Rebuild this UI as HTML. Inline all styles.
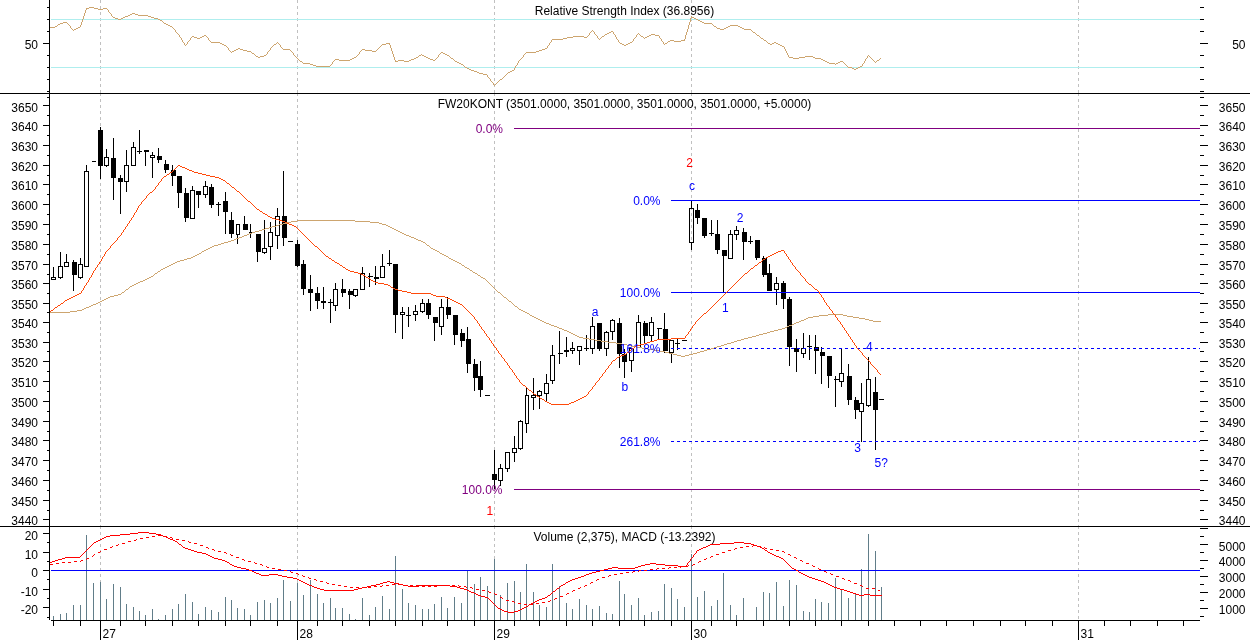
<!DOCTYPE html>
<html><head><meta charset="utf-8"><title>FW20KONT</title>
<style>html,body{margin:0;padding:0;background:#fff;overflow:hidden}svg{display:block;will-change:transform}text{font-family:"Liberation Sans",sans-serif;font-size:12px}</style></head>
<body>
<svg width="1250" height="640" viewBox="0 0 1250 640" shape-rendering="crispEdges" font-family="'Liberation Sans', sans-serif" font-size="12px">
<rect x="0" y="0" width="1250" height="640" fill="#fff"/>
<line x1="100.5" y1="0" x2="100.5" y2="93" stroke="#c0c0c0" stroke-width="1" stroke-dasharray="3 3"/>
<line x1="100.5" y1="93" x2="100.5" y2="526" stroke="#c0c0c0" stroke-width="1" stroke-dasharray="3 3"/>
<line x1="100.5" y1="526" x2="100.5" y2="620" stroke="#c0c0c0" stroke-width="1" stroke-dasharray="3 3"/>
<line x1="297.5" y1="0" x2="297.5" y2="93" stroke="#c0c0c0" stroke-width="1" stroke-dasharray="3 3"/>
<line x1="297.5" y1="93" x2="297.5" y2="526" stroke="#c0c0c0" stroke-width="1" stroke-dasharray="3 3"/>
<line x1="297.5" y1="526" x2="297.5" y2="620" stroke="#c0c0c0" stroke-width="1" stroke-dasharray="3 3"/>
<line x1="494.5" y1="0" x2="494.5" y2="93" stroke="#c0c0c0" stroke-width="1" stroke-dasharray="3 3"/>
<line x1="494.5" y1="93" x2="494.5" y2="526" stroke="#c0c0c0" stroke-width="1" stroke-dasharray="3 3"/>
<line x1="494.5" y1="526" x2="494.5" y2="620" stroke="#c0c0c0" stroke-width="1" stroke-dasharray="3 3"/>
<line x1="691.5" y1="0" x2="691.5" y2="93" stroke="#c0c0c0" stroke-width="1" stroke-dasharray="3 3"/>
<line x1="691.5" y1="93" x2="691.5" y2="526" stroke="#c0c0c0" stroke-width="1" stroke-dasharray="3 3"/>
<line x1="691.5" y1="526" x2="691.5" y2="620" stroke="#c0c0c0" stroke-width="1" stroke-dasharray="3 3"/>
<line x1="1078.5" y1="0" x2="1078.5" y2="93" stroke="#c0c0c0" stroke-width="1" stroke-dasharray="3 3"/>
<line x1="1078.5" y1="93" x2="1078.5" y2="526" stroke="#c0c0c0" stroke-width="1" stroke-dasharray="3 3"/>
<line x1="1078.5" y1="526" x2="1078.5" y2="620" stroke="#c0c0c0" stroke-width="1" stroke-dasharray="3 3"/>
<rect x="51" y="19" width="1149" height="1" fill="#afeeee"/>
<rect x="51" y="67" width="1149" height="1" fill="#afeeee"/>
<path d="M89 7h5v1h-5zM86 8h3v1h-3zM94 8h4v1h-4zM103 8h4v1h-4zM86 9h1v1h-1zM98 9h5v1h-5zM107 9h1v1h-1zM85 10h1v1h-1zM108 10h1v1h-1zM85 11h1v1h-1zM108 11h1v1h-1zM85 12h1v1h-1zM109 12h1v1h-1zM84 13h1v1h-1zM110 13h1v1h-1zM132 13h3v1h-3zM84 14h1v1h-1zM111 14h1v1h-1zM130 14h2v1h-2zM135 14h3v1h-3zM84 15h1v1h-1zM111 15h1v1h-1zM128 15h2v1h-2zM138 15h10v1h-10zM83 16h1v1h-1zM112 16h1v1h-1zM125 16h3v1h-3zM148 16h3v1h-3zM691 16h1v1h-1zM83 17h1v1h-1zM113 17h2v1h-2zM123 17h2v1h-2zM151 17h3v1h-3zM691 17h3v1h-3zM83 18h1v1h-1zM115 18h3v1h-3zM121 18h2v1h-2zM154 18h4v1h-4zM690 18h1v1h-1zM694 18h2v1h-2zM82 19h1v1h-1zM118 19h3v1h-3zM158 19h2v1h-2zM690 19h1v1h-1zM696 19h2v1h-2zM82 20h1v1h-1zM160 20h2v1h-2zM690 20h1v1h-1zM698 20h2v1h-2zM82 21h1v1h-1zM162 21h1v1h-1zM690 21h1v1h-1zM700 21h2v1h-2zM63 22h4v1h-4zM81 22h1v1h-1zM163 22h1v1h-1zM689 22h1v1h-1zM702 22h2v1h-2zM60 23h3v1h-3zM67 23h1v1h-1zM81 23h1v1h-1zM164 23h2v1h-2zM689 23h1v1h-1zM704 23h8v1h-8zM58 24h2v1h-2zM68 24h1v1h-1zM81 24h1v1h-1zM166 24h2v1h-2zM689 24h1v1h-1zM712 24h1v1h-1zM57 25h1v1h-1zM69 25h1v1h-1zM80 25h1v1h-1zM168 25h2v1h-2zM688 25h1v1h-1zM713 25h1v1h-1zM730 25h8v1h-8zM55 26h2v1h-2zM70 26h1v1h-1zM80 26h1v1h-1zM170 26h2v1h-2zM688 26h1v1h-1zM714 26h2v1h-2zM728 26h2v1h-2zM738 26h2v1h-2zM50 27h5v1h-5zM70 27h1v1h-1zM78 27h2v1h-2zM172 27h1v1h-1zM688 27h1v1h-1zM716 27h1v1h-1zM726 27h2v1h-2zM740 27h2v1h-2zM71 28h1v1h-1zM76 28h2v1h-2zM173 28h1v1h-1zM688 28h1v1h-1zM717 28h3v1h-3zM724 28h2v1h-2zM742 28h2v1h-2zM72 29h1v1h-1zM74 29h2v1h-2zM174 29h1v1h-1zM687 29h1v1h-1zM720 29h4v1h-4zM744 29h7v1h-7zM73 30h1v1h-1zM175 30h1v1h-1zM592 30h1v1h-1zM687 30h1v1h-1zM751 30h1v1h-1zM175 31h1v1h-1zM591 31h1v1h-1zM593 31h1v1h-1zM611 31h2v1h-2zM687 31h1v1h-1zM752 31h1v1h-1zM176 32h1v1h-1zM590 32h1v1h-1zM594 32h1v1h-1zM609 32h2v1h-2zM613 32h1v1h-1zM686 32h1v1h-1zM753 32h2v1h-2zM177 33h1v1h-1zM589 33h1v1h-1zM594 33h1v1h-1zM607 33h2v1h-2zM613 33h1v1h-1zM638 33h1v1h-1zM686 33h1v1h-1zM755 33h1v1h-1zM178 34h1v1h-1zM589 34h1v1h-1zM595 34h1v1h-1zM605 34h2v1h-2zM614 34h1v1h-1zM637 34h1v1h-1zM639 34h1v1h-1zM651 34h4v1h-4zM686 34h1v1h-1zM756 34h1v1h-1zM179 35h1v1h-1zM204 35h2v1h-2zM588 35h1v1h-1zM596 35h1v1h-1zM604 35h1v1h-1zM615 35h1v1h-1zM636 35h1v1h-1zM640 35h1v1h-1zM649 35h2v1h-2zM655 35h4v1h-4zM685 35h1v1h-1zM757 35h2v1h-2zM179 36h1v1h-1zM192 36h2v1h-2zM202 36h2v1h-2zM206 36h1v1h-1zM573 36h11v1h-11zM587 36h1v1h-1zM597 36h1v1h-1zM602 36h2v1h-2zM615 36h1v1h-1zM636 36h1v1h-1zM641 36h2v1h-2zM647 36h2v1h-2zM659 36h1v1h-1zM685 36h1v1h-1zM759 36h1v1h-1zM180 37h1v1h-1zM191 37h1v1h-1zM194 37h3v1h-3zM200 37h2v1h-2zM207 37h1v1h-1zM567 37h6v1h-6zM584 37h3v1h-3zM597 37h1v1h-1zM601 37h1v1h-1zM616 37h1v1h-1zM635 37h1v1h-1zM643 37h1v1h-1zM645 37h2v1h-2zM659 37h1v1h-1zM685 37h1v1h-1zM760 37h1v1h-1zM181 38h1v1h-1zM190 38h1v1h-1zM197 38h3v1h-3zM208 38h1v1h-1zM563 38h4v1h-4zM598 38h1v1h-1zM600 38h1v1h-1zM616 38h1v1h-1zM634 38h1v1h-1zM644 38h1v1h-1zM660 38h1v1h-1zM685 38h1v1h-1zM761 38h2v1h-2zM181 39h1v1h-1zM190 39h1v1h-1zM208 39h1v1h-1zM552 39h11v1h-11zM599 39h1v1h-1zM617 39h1v1h-1zM633 39h1v1h-1zM661 39h1v1h-1zM684 39h1v1h-1zM763 39h1v1h-1zM182 40h1v1h-1zM189 40h1v1h-1zM209 40h1v1h-1zM551 40h1v1h-1zM618 40h1v1h-1zM633 40h1v1h-1zM661 40h1v1h-1zM670 40h4v1h-4zM681 40h4v1h-4zM764 40h2v1h-2zM182 41h1v1h-1zM188 41h1v1h-1zM210 41h1v1h-1zM551 41h1v1h-1zM618 41h1v1h-1zM632 41h1v1h-1zM662 41h1v1h-1zM668 41h2v1h-2zM674 41h7v1h-7zM766 41h1v1h-1zM183 42h1v1h-1zM187 42h1v1h-1zM211 42h9v1h-9zM277 42h1v1h-1zM550 42h1v1h-1zM619 42h1v1h-1zM630 42h2v1h-2zM663 42h1v1h-1zM667 42h1v1h-1zM767 42h1v1h-1zM774 42h2v1h-2zM184 43h1v1h-1zM187 43h1v1h-1zM220 43h2v1h-2zM276 43h1v1h-1zM278 43h1v1h-1zM386 43h4v1h-4zM549 43h1v1h-1zM620 43h2v1h-2zM628 43h2v1h-2zM663 43h1v1h-1zM665 43h2v1h-2zM768 43h2v1h-2zM772 43h2v1h-2zM776 43h2v1h-2zM184 44h1v1h-1zM186 44h1v1h-1zM222 44h2v1h-2zM274 44h2v1h-2zM279 44h1v1h-1zM382 44h4v1h-4zM389 44h1v1h-1zM549 44h1v1h-1zM622 44h2v1h-2zM626 44h2v1h-2zM664 44h1v1h-1zM770 44h2v1h-2zM778 44h2v1h-2zM185 45h1v1h-1zM224 45h2v1h-2zM273 45h1v1h-1zM280 45h1v1h-1zM381 45h1v1h-1zM390 45h1v1h-1zM548 45h1v1h-1zM624 45h2v1h-2zM780 45h2v1h-2zM226 46h1v1h-1zM272 46h1v1h-1zM280 46h1v1h-1zM380 46h1v1h-1zM390 46h1v1h-1zM547 46h1v1h-1zM782 46h2v1h-2zM227 47h1v1h-1zM271 47h1v1h-1zM281 47h1v1h-1zM379 47h1v1h-1zM390 47h1v1h-1zM547 47h1v1h-1zM784 47h1v1h-1zM228 48h1v1h-1zM238 48h2v1h-2zM270 48h1v1h-1zM282 48h1v1h-1zM378 48h1v1h-1zM391 48h1v1h-1zM545 48h2v1h-2zM784 48h1v1h-1zM228 49h1v1h-1zM236 49h2v1h-2zM240 49h3v1h-3zM270 49h1v1h-1zM283 49h7v1h-7zM362 49h3v1h-3zM377 49h1v1h-1zM391 49h1v1h-1zM542 49h3v1h-3zM785 49h1v1h-1zM229 50h1v1h-1zM234 50h2v1h-2zM243 50h4v1h-4zM269 50h1v1h-1zM290 50h1v1h-1zM361 50h1v1h-1zM365 50h7v1h-7zM376 50h1v1h-1zM391 50h1v1h-1zM539 50h3v1h-3zM785 50h1v1h-1zM230 51h1v1h-1zM232 51h2v1h-2zM247 51h4v1h-4zM268 51h1v1h-1zM291 51h1v1h-1zM360 51h1v1h-1zM372 51h4v1h-4zM392 51h1v1h-1zM536 51h3v1h-3zM786 51h1v1h-1zM231 52h1v1h-1zM251 52h1v1h-1zM267 52h1v1h-1zM292 52h1v1h-1zM359 52h1v1h-1zM392 52h1v1h-1zM441 52h2v1h-2zM526 52h10v1h-10zM786 52h1v1h-1zM252 53h2v1h-2zM267 53h1v1h-1zM293 53h1v1h-1zM359 53h1v1h-1zM392 53h1v1h-1zM440 53h1v1h-1zM443 53h2v1h-2zM525 53h1v1h-1zM787 53h1v1h-1zM254 54h1v1h-1zM266 54h1v1h-1zM293 54h1v1h-1zM358 54h1v1h-1zM393 54h1v1h-1zM421 54h1v1h-1zM439 54h1v1h-1zM445 54h2v1h-2zM524 54h1v1h-1zM787 54h1v1h-1zM255 55h1v1h-1zM264 55h2v1h-2zM294 55h1v1h-1zM357 55h1v1h-1zM393 55h1v1h-1zM419 55h2v1h-2zM422 55h2v1h-2zM438 55h1v1h-1zM447 55h2v1h-2zM523 55h1v1h-1zM788 55h1v1h-1zM868 55h1v1h-1zM256 56h2v1h-2zM260 56h4v1h-4zM295 56h1v1h-1zM356 56h1v1h-1zM393 56h1v1h-1zM418 56h1v1h-1zM424 56h2v1h-2zM438 56h1v1h-1zM449 56h1v1h-1zM523 56h1v1h-1zM788 56h1v1h-1zM805 56h8v1h-8zM867 56h1v1h-1zM869 56h1v1h-1zM258 57h2v1h-2zM296 57h1v1h-1zM354 57h2v1h-2zM394 57h1v1h-1zM416 57h2v1h-2zM426 57h2v1h-2zM437 57h1v1h-1zM450 57h1v1h-1zM522 57h1v1h-1zM789 57h4v1h-4zM799 57h6v1h-6zM813 57h2v1h-2zM867 57h1v1h-1zM870 57h1v1h-1zM297 58h1v1h-1zM352 58h2v1h-2zM394 58h1v1h-1zM414 58h2v1h-2zM428 58h2v1h-2zM436 58h1v1h-1zM451 58h2v1h-2zM521 58h1v1h-1zM793 58h6v1h-6zM815 58h6v1h-6zM866 58h1v1h-1zM871 58h1v1h-1zM880 58h1v1h-1zM298 59h1v1h-1zM335 59h4v1h-4zM350 59h2v1h-2zM394 59h1v1h-1zM411 59h3v1h-3zM430 59h3v1h-3zM435 59h1v1h-1zM453 59h1v1h-1zM520 59h1v1h-1zM821 59h2v1h-2zM865 59h1v1h-1zM872 59h1v1h-1zM879 59h1v1h-1zM299 60h1v1h-1zM334 60h1v1h-1zM339 60h11v1h-11zM395 60h1v1h-1zM398 60h6v1h-6zM409 60h2v1h-2zM433 60h2v1h-2zM454 60h1v1h-1zM519 60h1v1h-1zM823 60h2v1h-2zM865 60h1v1h-1zM873 60h1v1h-1zM877 60h2v1h-2zM300 61h2v1h-2zM333 61h1v1h-1zM395 61h3v1h-3zM404 61h5v1h-5zM455 61h2v1h-2zM518 61h1v1h-1zM825 61h2v1h-2zM840 61h3v1h-3zM864 61h1v1h-1zM874 61h1v1h-1zM876 61h1v1h-1zM302 62h1v1h-1zM332 62h1v1h-1zM457 62h2v1h-2zM518 62h1v1h-1zM827 62h2v1h-2zM838 62h2v1h-2zM843 62h1v1h-1zM864 62h1v1h-1zM875 62h1v1h-1zM303 63h7v1h-7zM332 63h1v1h-1zM459 63h2v1h-2zM517 63h1v1h-1zM829 63h6v1h-6zM836 63h2v1h-2zM844 63h1v1h-1zM863 63h1v1h-1zM310 64h3v1h-3zM331 64h1v1h-1zM461 64h2v1h-2zM517 64h1v1h-1zM835 64h1v1h-1zM845 64h1v1h-1zM862 64h1v1h-1zM313 65h3v1h-3zM330 65h1v1h-1zM463 65h1v1h-1zM516 65h1v1h-1zM846 65h1v1h-1zM862 65h1v1h-1zM316 66h14v1h-14zM464 66h1v1h-1zM515 66h1v1h-1zM847 66h1v1h-1zM860 66h2v1h-2zM465 67h2v1h-2zM515 67h1v1h-1zM848 67h4v1h-4zM858 67h2v1h-2zM467 68h2v1h-2zM514 68h1v1h-1zM852 68h2v1h-2zM856 68h2v1h-2zM469 69h2v1h-2zM514 69h1v1h-1zM854 69h2v1h-2zM471 70h3v1h-3zM512 70h2v1h-2zM474 71h3v1h-3zM510 71h2v1h-2zM477 72h2v1h-2zM508 72h2v1h-2zM479 73h4v1h-4zM507 73h1v1h-1zM483 74h4v1h-4zM506 74h1v1h-1zM487 75h1v1h-1zM505 75h1v1h-1zM487 76h1v1h-1zM504 76h1v1h-1zM488 77h1v1h-1zM503 77h1v1h-1zM489 78h1v1h-1zM502 78h1v1h-1zM490 79h1v1h-1zM500 79h2v1h-2zM490 80h1v1h-1zM499 80h1v1h-1zM491 81h1v1h-1zM498 81h1v1h-1zM492 82h1v1h-1zM497 82h1v1h-1zM493 83h1v1h-1zM496 83h1v1h-1zM493 84h1v1h-1zM495 84h1v1h-1zM494 85h1v1h-1z" fill="#cda56f"/>
<rect x="53" y="616" width="1" height="4" fill="#617d89"/>
<rect x="60" y="614" width="1" height="6" fill="#617d89"/>
<rect x="66" y="613" width="1" height="7" fill="#617d89"/>
<rect x="73" y="605" width="1" height="15" fill="#617d89"/>
<rect x="80" y="605" width="1" height="15" fill="#617d89"/>
<rect x="86" y="535" width="1" height="85" fill="#617d89"/>
<rect x="93" y="583" width="1" height="37" fill="#617d89"/>
<rect x="100" y="582" width="1" height="38" fill="#617d89"/>
<rect x="106" y="599" width="1" height="21" fill="#617d89"/>
<rect x="113" y="584" width="1" height="36" fill="#617d89"/>
<rect x="120" y="587" width="1" height="33" fill="#617d89"/>
<rect x="126" y="604" width="1" height="16" fill="#617d89"/>
<rect x="133" y="607" width="1" height="13" fill="#617d89"/>
<rect x="139" y="611" width="1" height="9" fill="#617d89"/>
<rect x="145" y="615" width="1" height="5" fill="#617d89"/>
<rect x="152" y="609" width="1" height="11" fill="#617d89"/>
<rect x="158" y="619" width="1" height="1" fill="#617d89"/>
<rect x="165" y="615" width="1" height="5" fill="#617d89"/>
<rect x="172" y="609" width="1" height="11" fill="#617d89"/>
<rect x="178" y="604" width="1" height="16" fill="#617d89"/>
<rect x="185" y="594" width="1" height="26" fill="#617d89"/>
<rect x="192" y="602" width="1" height="18" fill="#617d89"/>
<rect x="198" y="614" width="1" height="6" fill="#617d89"/>
<rect x="205" y="607" width="1" height="13" fill="#617d89"/>
<rect x="211" y="610" width="1" height="10" fill="#617d89"/>
<rect x="218" y="612" width="1" height="8" fill="#617d89"/>
<rect x="225" y="597" width="1" height="23" fill="#617d89"/>
<rect x="231" y="600" width="1" height="20" fill="#617d89"/>
<rect x="237" y="608" width="1" height="12" fill="#617d89"/>
<rect x="244" y="609" width="1" height="11" fill="#617d89"/>
<rect x="250" y="615" width="1" height="5" fill="#617d89"/>
<rect x="257" y="602" width="1" height="18" fill="#617d89"/>
<rect x="264" y="600" width="1" height="20" fill="#617d89"/>
<rect x="270" y="603" width="1" height="17" fill="#617d89"/>
<rect x="277" y="598" width="1" height="22" fill="#617d89"/>
<rect x="283" y="580" width="1" height="40" fill="#617d89"/>
<rect x="290" y="601" width="1" height="19" fill="#617d89"/>
<rect x="297" y="583" width="1" height="37" fill="#617d89"/>
<rect x="303" y="595" width="1" height="25" fill="#617d89"/>
<rect x="310" y="580" width="1" height="40" fill="#617d89"/>
<rect x="317" y="594" width="1" height="26" fill="#617d89"/>
<rect x="323" y="603" width="1" height="17" fill="#617d89"/>
<rect x="330" y="598" width="1" height="22" fill="#617d89"/>
<rect x="335" y="608" width="1" height="12" fill="#617d89"/>
<rect x="342" y="608" width="1" height="12" fill="#617d89"/>
<rect x="349" y="614" width="1" height="6" fill="#617d89"/>
<rect x="355" y="619" width="1" height="1" fill="#617d89"/>
<rect x="362" y="598" width="1" height="22" fill="#617d89"/>
<rect x="369" y="615" width="1" height="5" fill="#617d89"/>
<rect x="375" y="607" width="1" height="13" fill="#617d89"/>
<rect x="382" y="596" width="1" height="24" fill="#617d89"/>
<rect x="389" y="609" width="1" height="11" fill="#617d89"/>
<rect x="395" y="556" width="1" height="64" fill="#617d89"/>
<rect x="402" y="589" width="1" height="31" fill="#617d89"/>
<rect x="408" y="603" width="1" height="17" fill="#617d89"/>
<rect x="415" y="605" width="1" height="15" fill="#617d89"/>
<rect x="422" y="609" width="1" height="11" fill="#617d89"/>
<rect x="428" y="609" width="1" height="11" fill="#617d89"/>
<rect x="434" y="604" width="1" height="16" fill="#617d89"/>
<rect x="441" y="597" width="1" height="23" fill="#617d89"/>
<rect x="447" y="608" width="1" height="12" fill="#617d89"/>
<rect x="454" y="597" width="1" height="23" fill="#617d89"/>
<rect x="461" y="603" width="1" height="17" fill="#617d89"/>
<rect x="467" y="570" width="1" height="50" fill="#617d89"/>
<rect x="474" y="584" width="1" height="36" fill="#617d89"/>
<rect x="480" y="577" width="1" height="43" fill="#617d89"/>
<rect x="487" y="586" width="1" height="34" fill="#617d89"/>
<rect x="494" y="559" width="1" height="61" fill="#617d89"/>
<rect x="500" y="595" width="1" height="25" fill="#617d89"/>
<rect x="507" y="583" width="1" height="37" fill="#617d89"/>
<rect x="514" y="581" width="1" height="39" fill="#617d89"/>
<rect x="520" y="592" width="1" height="28" fill="#617d89"/>
<rect x="526" y="564" width="1" height="56" fill="#617d89"/>
<rect x="533" y="592" width="1" height="28" fill="#617d89"/>
<rect x="539" y="605" width="1" height="15" fill="#617d89"/>
<rect x="546" y="607" width="1" height="13" fill="#617d89"/>
<rect x="552" y="564" width="1" height="56" fill="#617d89"/>
<rect x="559" y="586" width="1" height="34" fill="#617d89"/>
<rect x="566" y="603" width="1" height="17" fill="#617d89"/>
<rect x="572" y="609" width="1" height="11" fill="#617d89"/>
<rect x="579" y="599" width="1" height="21" fill="#617d89"/>
<rect x="586" y="605" width="1" height="15" fill="#617d89"/>
<rect x="592" y="609" width="1" height="11" fill="#617d89"/>
<rect x="599" y="606" width="1" height="14" fill="#617d89"/>
<rect x="606" y="613" width="1" height="7" fill="#617d89"/>
<rect x="612" y="614" width="1" height="6" fill="#617d89"/>
<rect x="619" y="581" width="1" height="39" fill="#617d89"/>
<rect x="624" y="594" width="1" height="26" fill="#617d89"/>
<rect x="631" y="605" width="1" height="15" fill="#617d89"/>
<rect x="638" y="598" width="1" height="22" fill="#617d89"/>
<rect x="644" y="615" width="1" height="5" fill="#617d89"/>
<rect x="651" y="612" width="1" height="8" fill="#617d89"/>
<rect x="658" y="611" width="1" height="9" fill="#617d89"/>
<rect x="664" y="584" width="1" height="36" fill="#617d89"/>
<rect x="671" y="588" width="1" height="32" fill="#617d89"/>
<rect x="677" y="599" width="1" height="21" fill="#617d89"/>
<rect x="684" y="607" width="1" height="13" fill="#617d89"/>
<rect x="691" y="554" width="1" height="66" fill="#617d89"/>
<rect x="697" y="597" width="1" height="23" fill="#617d89"/>
<rect x="704" y="591" width="1" height="29" fill="#617d89"/>
<rect x="711" y="606" width="1" height="14" fill="#617d89"/>
<rect x="717" y="600" width="1" height="20" fill="#617d89"/>
<rect x="723" y="573" width="1" height="47" fill="#617d89"/>
<rect x="730" y="605" width="1" height="15" fill="#617d89"/>
<rect x="736" y="615" width="1" height="5" fill="#617d89"/>
<rect x="743" y="598" width="1" height="22" fill="#617d89"/>
<rect x="756" y="607" width="1" height="13" fill="#617d89"/>
<rect x="763" y="592" width="1" height="28" fill="#617d89"/>
<rect x="769" y="593" width="1" height="27" fill="#617d89"/>
<rect x="776" y="582" width="1" height="38" fill="#617d89"/>
<rect x="783" y="606" width="1" height="14" fill="#617d89"/>
<rect x="789" y="580" width="1" height="40" fill="#617d89"/>
<rect x="796" y="585" width="1" height="35" fill="#617d89"/>
<rect x="803" y="611" width="1" height="9" fill="#617d89"/>
<rect x="809" y="612" width="1" height="8" fill="#617d89"/>
<rect x="815" y="599" width="1" height="21" fill="#617d89"/>
<rect x="821" y="602" width="1" height="18" fill="#617d89"/>
<rect x="828" y="603" width="1" height="17" fill="#617d89"/>
<rect x="835" y="578" width="1" height="42" fill="#617d89"/>
<rect x="841" y="590" width="1" height="30" fill="#617d89"/>
<rect x="848" y="598" width="1" height="22" fill="#617d89"/>
<rect x="855" y="593" width="1" height="27" fill="#617d89"/>
<rect x="861" y="569" width="1" height="51" fill="#617d89"/>
<rect x="868" y="534" width="1" height="86" fill="#617d89"/>
<rect x="875" y="551" width="1" height="69" fill="#617d89"/>
<rect x="881" y="587" width="1" height="33" fill="#617d89"/>
<rect x="53" y="267" width="1" height="11" fill="#000"/>
<rect x="51.5" y="277.5" width="4" height="2" fill="none" stroke="#000" stroke-width="1"/>
<rect x="60" y="252" width="1" height="15" fill="#000"/>
<rect x="60" y="277" width="1" height="2" fill="#000"/>
<rect x="58.5" y="266.5" width="4" height="11" fill="none" stroke="#000" stroke-width="1"/>
<rect x="66" y="254" width="1" height="9" fill="#000"/>
<rect x="64.5" y="262.5" width="4" height="4" fill="none" stroke="#000" stroke-width="1"/>
<rect x="73" y="260" width="1" height="31" fill="#000"/>
<rect x="72" y="262" width="5" height="13" fill="#000"/>
<rect x="80" y="258" width="1" height="7" fill="#000"/>
<rect x="80" y="277" width="1" height="2" fill="#000"/>
<rect x="78.5" y="264.5" width="4" height="13" fill="none" stroke="#000" stroke-width="1"/>
<rect x="86" y="165" width="1" height="7" fill="#000"/>
<rect x="84.5" y="171.5" width="4" height="95" fill="none" stroke="#000" stroke-width="1"/>
<rect x="92" y="161" width="4" height="1" fill="#000"/>
<rect x="100" y="127" width="1" height="52" fill="#000"/>
<rect x="98" y="130" width="5" height="36" fill="#000"/>
<rect x="106" y="149" width="1" height="9" fill="#000"/>
<rect x="106" y="165" width="1" height="2" fill="#000"/>
<rect x="104.5" y="157.5" width="4" height="8" fill="none" stroke="#000" stroke-width="1"/>
<rect x="113" y="138" width="1" height="62" fill="#000"/>
<rect x="111" y="158" width="5" height="20" fill="#000"/>
<rect x="120" y="175" width="1" height="39" fill="#000"/>
<rect x="118" y="178" width="5" height="4" fill="#000"/>
<rect x="126" y="150" width="1" height="16" fill="#000"/>
<rect x="126" y="181" width="1" height="11" fill="#000"/>
<rect x="124.5" y="165.5" width="4" height="16" fill="none" stroke="#000" stroke-width="1"/>
<rect x="133" y="142" width="1" height="6" fill="#000"/>
<rect x="131.5" y="147.5" width="4" height="18" fill="none" stroke="#000" stroke-width="1"/>
<rect x="139" y="130" width="1" height="24" fill="#000"/>
<rect x="137" y="151" width="5" height="1" fill="#000"/>
<rect x="145" y="150" width="1" height="16" fill="#000"/>
<rect x="144" y="150" width="5" height="2" fill="#000"/>
<rect x="152" y="152" width="1" height="4" fill="#000"/>
<rect x="152" y="157" width="1" height="21" fill="#000"/>
<rect x="150.5" y="155.5" width="4" height="2" fill="none" stroke="#000" stroke-width="1"/>
<rect x="158" y="148" width="1" height="15" fill="#000"/>
<rect x="157" y="156" width="5" height="4" fill="#000"/>
<rect x="165" y="160" width="1" height="13" fill="#000"/>
<rect x="164" y="164" width="5" height="6" fill="#000"/>
<rect x="172" y="165" width="1" height="21" fill="#000"/>
<rect x="171" y="170" width="5" height="6" fill="#000"/>
<rect x="178" y="176" width="1" height="32" fill="#000"/>
<rect x="177" y="176" width="5" height="17" fill="#000"/>
<rect x="185" y="188" width="1" height="34" fill="#000"/>
<rect x="184" y="193" width="5" height="25" fill="#000"/>
<rect x="192" y="186" width="1" height="5" fill="#000"/>
<rect x="190.5" y="190.5" width="4" height="28" fill="none" stroke="#000" stroke-width="1"/>
<rect x="198" y="191" width="1" height="17" fill="#000"/>
<rect x="196" y="191" width="5" height="4" fill="#000"/>
<rect x="205" y="181" width="1" height="6" fill="#000"/>
<rect x="205" y="194" width="1" height="4" fill="#000"/>
<rect x="203.5" y="186.5" width="4" height="8" fill="none" stroke="#000" stroke-width="1"/>
<rect x="211" y="184" width="1" height="24" fill="#000"/>
<rect x="209" y="187" width="5" height="18" fill="#000"/>
<rect x="218" y="202" width="1" height="14" fill="#000"/>
<rect x="216" y="204" width="5" height="1" fill="#000"/>
<rect x="225" y="192" width="1" height="42" fill="#000"/>
<rect x="223" y="201" width="5" height="11" fill="#000"/>
<rect x="231" y="212" width="1" height="26" fill="#000"/>
<rect x="229" y="220" width="5" height="14" fill="#000"/>
<rect x="237" y="234" width="1" height="10" fill="#000"/>
<rect x="236.5" y="224.5" width="3" height="10" fill="none" stroke="#000" stroke-width="1"/>
<rect x="244" y="216" width="1" height="14" fill="#000"/>
<rect x="243" y="224" width="5" height="6" fill="#000"/>
<rect x="250" y="224" width="1" height="14" fill="#000"/>
<rect x="249" y="232" width="5" height="1" fill="#000"/>
<rect x="257" y="234" width="1" height="28" fill="#000"/>
<rect x="256" y="234" width="5" height="18" fill="#000"/>
<rect x="264" y="220" width="1" height="29" fill="#000"/>
<rect x="264" y="252" width="1" height="2" fill="#000"/>
<rect x="262.5" y="248.5" width="4" height="4" fill="none" stroke="#000" stroke-width="1"/>
<rect x="270" y="222" width="1" height="11" fill="#000"/>
<rect x="270" y="246" width="1" height="14" fill="#000"/>
<rect x="268.5" y="232.5" width="4" height="14" fill="none" stroke="#000" stroke-width="1"/>
<rect x="277" y="208" width="1" height="9" fill="#000"/>
<rect x="277" y="235" width="1" height="14" fill="#000"/>
<rect x="275.5" y="216.5" width="4" height="19" fill="none" stroke="#000" stroke-width="1"/>
<rect x="283" y="171" width="1" height="75" fill="#000"/>
<rect x="282" y="216" width="5" height="22" fill="#000"/>
<rect x="288" y="241" width="5" height="1" fill="#000"/>
<rect x="297" y="240" width="1" height="27" fill="#000"/>
<rect x="295" y="244" width="5" height="22" fill="#000"/>
<rect x="303" y="260" width="1" height="35" fill="#000"/>
<rect x="301" y="264" width="5" height="25" fill="#000"/>
<rect x="310" y="275" width="1" height="36" fill="#000"/>
<rect x="308" y="289" width="5" height="4" fill="#000"/>
<rect x="317" y="287" width="1" height="22" fill="#000"/>
<rect x="315" y="293" width="5" height="8" fill="#000"/>
<rect x="323" y="287" width="1" height="22" fill="#000"/>
<rect x="321" y="301" width="5" height="2" fill="#000"/>
<rect x="330" y="299" width="1" height="24" fill="#000"/>
<rect x="328" y="302" width="5" height="1" fill="#000"/>
<rect x="335" y="283" width="1" height="7" fill="#000"/>
<rect x="335" y="305" width="1" height="6" fill="#000"/>
<rect x="333.5" y="289.5" width="4" height="16" fill="none" stroke="#000" stroke-width="1"/>
<rect x="342" y="279" width="1" height="18" fill="#000"/>
<rect x="341" y="289" width="5" height="4" fill="#000"/>
<rect x="349" y="289" width="1" height="20" fill="#000"/>
<rect x="348" y="291" width="5" height="4" fill="#000"/>
<rect x="355" y="295" width="1" height="2" fill="#000"/>
<rect x="353.5" y="289.5" width="4" height="6" fill="none" stroke="#000" stroke-width="1"/>
<rect x="362" y="267" width="1" height="7" fill="#000"/>
<rect x="360.5" y="273.5" width="4" height="16" fill="none" stroke="#000" stroke-width="1"/>
<rect x="369" y="273" width="1" height="14" fill="#000"/>
<rect x="368" y="276" width="5" height="1" fill="#000"/>
<rect x="375" y="266" width="1" height="19" fill="#000"/>
<rect x="374" y="277" width="5" height="2" fill="#000"/>
<rect x="382" y="254" width="1" height="13" fill="#000"/>
<rect x="380.5" y="266.5" width="4" height="11" fill="none" stroke="#000" stroke-width="1"/>
<rect x="389" y="250" width="1" height="16" fill="#000"/>
<rect x="387" y="263" width="5" height="1" fill="#000"/>
<rect x="395" y="264" width="1" height="69" fill="#000"/>
<rect x="393" y="264" width="5" height="51" fill="#000"/>
<rect x="402" y="307" width="1" height="6" fill="#000"/>
<rect x="402" y="314" width="1" height="25" fill="#000"/>
<rect x="400.5" y="312.5" width="4" height="2" fill="none" stroke="#000" stroke-width="1"/>
<rect x="408" y="307" width="1" height="20" fill="#000"/>
<rect x="406" y="315" width="5" height="1" fill="#000"/>
<rect x="415" y="305" width="1" height="7" fill="#000"/>
<rect x="415" y="314" width="1" height="7" fill="#000"/>
<rect x="413.5" y="311.5" width="4" height="3" fill="none" stroke="#000" stroke-width="1"/>
<rect x="422" y="299" width="1" height="5" fill="#000"/>
<rect x="422" y="311" width="1" height="2" fill="#000"/>
<rect x="420.5" y="303.5" width="4" height="8" fill="none" stroke="#000" stroke-width="1"/>
<rect x="428" y="299" width="1" height="20" fill="#000"/>
<rect x="426" y="303" width="5" height="12" fill="#000"/>
<rect x="434" y="317" width="1" height="24" fill="#000"/>
<rect x="433" y="317" width="5" height="6" fill="#000"/>
<rect x="441" y="299" width="1" height="9" fill="#000"/>
<rect x="441" y="326" width="1" height="9" fill="#000"/>
<rect x="439.5" y="307.5" width="4" height="19" fill="none" stroke="#000" stroke-width="1"/>
<rect x="447" y="297" width="1" height="22" fill="#000"/>
<rect x="446" y="307" width="5" height="8" fill="#000"/>
<rect x="454" y="315" width="1" height="30" fill="#000"/>
<rect x="453" y="315" width="5" height="20" fill="#000"/>
<rect x="461" y="329" width="1" height="18" fill="#000"/>
<rect x="460" y="333" width="5" height="8" fill="#000"/>
<rect x="467" y="327" width="1" height="46" fill="#000"/>
<rect x="466" y="339" width="5" height="25" fill="#000"/>
<rect x="474" y="359" width="1" height="32" fill="#000"/>
<rect x="473" y="364" width="5" height="14" fill="#000"/>
<rect x="480" y="361" width="1" height="36" fill="#000"/>
<rect x="478" y="376" width="5" height="14" fill="#000"/>
<rect x="485" y="395" width="5" height="1" fill="#000"/>
<rect x="494" y="450" width="1" height="39" fill="#000"/>
<rect x="492" y="474" width="5" height="6" fill="#000"/>
<rect x="500" y="464" width="1" height="5" fill="#000"/>
<rect x="500" y="480" width="1" height="6" fill="#000"/>
<rect x="498.5" y="468.5" width="4" height="12" fill="none" stroke="#000" stroke-width="1"/>
<rect x="507" y="468" width="1" height="4" fill="#000"/>
<rect x="505.5" y="452.5" width="4" height="16" fill="none" stroke="#000" stroke-width="1"/>
<rect x="514" y="436" width="1" height="13" fill="#000"/>
<rect x="514" y="452" width="1" height="10" fill="#000"/>
<rect x="512.5" y="448.5" width="4" height="4" fill="none" stroke="#000" stroke-width="1"/>
<rect x="520" y="420" width="1" height="2" fill="#000"/>
<rect x="520" y="448" width="1" height="2" fill="#000"/>
<rect x="518.5" y="421.5" width="4" height="27" fill="none" stroke="#000" stroke-width="1"/>
<rect x="526" y="387" width="1" height="9" fill="#000"/>
<rect x="526" y="423" width="1" height="10" fill="#000"/>
<rect x="525.5" y="395.5" width="3" height="28" fill="none" stroke="#000" stroke-width="1"/>
<rect x="533" y="378" width="1" height="18" fill="#000"/>
<rect x="533" y="397" width="1" height="13" fill="#000"/>
<rect x="531.5" y="395.5" width="4" height="2" fill="none" stroke="#000" stroke-width="1"/>
<rect x="539" y="390" width="1" height="2" fill="#000"/>
<rect x="539" y="395" width="1" height="14" fill="#000"/>
<rect x="537.5" y="391.5" width="4" height="4" fill="none" stroke="#000" stroke-width="1"/>
<rect x="546" y="374" width="1" height="10" fill="#000"/>
<rect x="546" y="393" width="1" height="9" fill="#000"/>
<rect x="544.5" y="383.5" width="4" height="10" fill="none" stroke="#000" stroke-width="1"/>
<rect x="552" y="345" width="1" height="11" fill="#000"/>
<rect x="552" y="380" width="1" height="4" fill="#000"/>
<rect x="550.5" y="355.5" width="4" height="25" fill="none" stroke="#000" stroke-width="1"/>
<rect x="559" y="331" width="1" height="33" fill="#000"/>
<rect x="558" y="353" width="5" height="1" fill="#000"/>
<rect x="566" y="337" width="1" height="20" fill="#000"/>
<rect x="564" y="350" width="5" height="2" fill="#000"/>
<rect x="572" y="342" width="1" height="7" fill="#000"/>
<rect x="572" y="350" width="1" height="4" fill="#000"/>
<rect x="570.5" y="348.5" width="4" height="2" fill="none" stroke="#000" stroke-width="1"/>
<rect x="579" y="350" width="1" height="15" fill="#000"/>
<rect x="577.5" y="346.5" width="4" height="4" fill="none" stroke="#000" stroke-width="1"/>
<rect x="586" y="335" width="1" height="16" fill="#000"/>
<rect x="584" y="348" width="5" height="1" fill="#000"/>
<rect x="592" y="317" width="1" height="10" fill="#000"/>
<rect x="592" y="348" width="1" height="6" fill="#000"/>
<rect x="590.5" y="326.5" width="4" height="22" fill="none" stroke="#000" stroke-width="1"/>
<rect x="599" y="323" width="1" height="28" fill="#000"/>
<rect x="597" y="323" width="5" height="26" fill="#000"/>
<rect x="606" y="331" width="1" height="2" fill="#000"/>
<rect x="606" y="348" width="1" height="8" fill="#000"/>
<rect x="604.5" y="332.5" width="4" height="16" fill="none" stroke="#000" stroke-width="1"/>
<rect x="612" y="319" width="1" height="2" fill="#000"/>
<rect x="612" y="331" width="1" height="9" fill="#000"/>
<rect x="610.5" y="320.5" width="4" height="11" fill="none" stroke="#000" stroke-width="1"/>
<rect x="619" y="318" width="1" height="50" fill="#000"/>
<rect x="617" y="323" width="5" height="31" fill="#000"/>
<rect x="624" y="349" width="1" height="29" fill="#000"/>
<rect x="622" y="354" width="5" height="8" fill="#000"/>
<rect x="631" y="360" width="1" height="12" fill="#000"/>
<rect x="629.5" y="348.5" width="4" height="12" fill="none" stroke="#000" stroke-width="1"/>
<rect x="638" y="315" width="1" height="8" fill="#000"/>
<rect x="636.5" y="322.5" width="4" height="25" fill="none" stroke="#000" stroke-width="1"/>
<rect x="644" y="321" width="1" height="22" fill="#000"/>
<rect x="643" y="323" width="5" height="13" fill="#000"/>
<rect x="651" y="317" width="1" height="6" fill="#000"/>
<rect x="651" y="335" width="1" height="7" fill="#000"/>
<rect x="649.5" y="322.5" width="4" height="13" fill="none" stroke="#000" stroke-width="1"/>
<rect x="658" y="328" width="1" height="12" fill="#000"/>
<rect x="657" y="328" width="5" height="1" fill="#000"/>
<rect x="664" y="313" width="1" height="40" fill="#000"/>
<rect x="663" y="329" width="5" height="22" fill="#000"/>
<rect x="671" y="352" width="1" height="11" fill="#000"/>
<rect x="669.5" y="340.5" width="4" height="12" fill="none" stroke="#000" stroke-width="1"/>
<rect x="677" y="339" width="1" height="11" fill="#000"/>
<rect x="675" y="343" width="5" height="1" fill="#000"/>
<rect x="682" y="340" width="5" height="1" fill="#000"/>
<rect x="691" y="200" width="1" height="9" fill="#000"/>
<rect x="691" y="242" width="1" height="8" fill="#000"/>
<rect x="689.5" y="208.5" width="4" height="34" fill="none" stroke="#000" stroke-width="1"/>
<rect x="697" y="204" width="1" height="20" fill="#000"/>
<rect x="695" y="210" width="5" height="8" fill="#000"/>
<rect x="704" y="218" width="1" height="20" fill="#000"/>
<rect x="702" y="218" width="5" height="18" fill="#000"/>
<rect x="711" y="220" width="1" height="16" fill="#000"/>
<rect x="709" y="233" width="5" height="1" fill="#000"/>
<rect x="717" y="220" width="1" height="34" fill="#000"/>
<rect x="715" y="234" width="5" height="16" fill="#000"/>
<rect x="723" y="250" width="1" height="42" fill="#000"/>
<rect x="722" y="250" width="5" height="6" fill="#000"/>
<rect x="730" y="230" width="1" height="5" fill="#000"/>
<rect x="728.5" y="234.5" width="4" height="24" fill="none" stroke="#000" stroke-width="1"/>
<rect x="736" y="226" width="1" height="5" fill="#000"/>
<rect x="736" y="234" width="1" height="6" fill="#000"/>
<rect x="734.5" y="230.5" width="4" height="4" fill="none" stroke="#000" stroke-width="1"/>
<rect x="743" y="228" width="1" height="32" fill="#000"/>
<rect x="742" y="232" width="5" height="10" fill="#000"/>
<rect x="750" y="236" width="1" height="8" fill="#000"/>
<rect x="748" y="241" width="5" height="1" fill="#000"/>
<rect x="756" y="240" width="1" height="20" fill="#000"/>
<rect x="755" y="240" width="5" height="18" fill="#000"/>
<rect x="763" y="256" width="1" height="21" fill="#000"/>
<rect x="762" y="258" width="5" height="17" fill="#000"/>
<rect x="769" y="264" width="1" height="27" fill="#000"/>
<rect x="767" y="273" width="5" height="18" fill="#000"/>
<rect x="776" y="277" width="1" height="7" fill="#000"/>
<rect x="776" y="289" width="1" height="16" fill="#000"/>
<rect x="774.5" y="283.5" width="4" height="6" fill="none" stroke="#000" stroke-width="1"/>
<rect x="783" y="281" width="1" height="28" fill="#000"/>
<rect x="781" y="283" width="5" height="16" fill="#000"/>
<rect x="789" y="297" width="1" height="69" fill="#000"/>
<rect x="787" y="299" width="5" height="48" fill="#000"/>
<rect x="796" y="339" width="1" height="33" fill="#000"/>
<rect x="794" y="348" width="5" height="4" fill="#000"/>
<rect x="803" y="333" width="1" height="16" fill="#000"/>
<rect x="803" y="353" width="1" height="5" fill="#000"/>
<rect x="801.5" y="348.5" width="4" height="5" fill="none" stroke="#000" stroke-width="1"/>
<rect x="809" y="335" width="1" height="25" fill="#000"/>
<rect x="807" y="346" width="5" height="1" fill="#000"/>
<rect x="815" y="335" width="1" height="39" fill="#000"/>
<rect x="814" y="347" width="5" height="4" fill="#000"/>
<rect x="821" y="347" width="1" height="37" fill="#000"/>
<rect x="820" y="352" width="5" height="4" fill="#000"/>
<rect x="828" y="356" width="1" height="32" fill="#000"/>
<rect x="827" y="356" width="5" height="20" fill="#000"/>
<rect x="835" y="376" width="1" height="31" fill="#000"/>
<rect x="834" y="379" width="5" height="1" fill="#000"/>
<rect x="841" y="348" width="1" height="26" fill="#000"/>
<rect x="841" y="381" width="1" height="6" fill="#000"/>
<rect x="839.5" y="373.5" width="4" height="8" fill="none" stroke="#000" stroke-width="1"/>
<rect x="848" y="364" width="1" height="41" fill="#000"/>
<rect x="847" y="376" width="5" height="24" fill="#000"/>
<rect x="855" y="397" width="1" height="22" fill="#000"/>
<rect x="854" y="400" width="5" height="10" fill="#000"/>
<rect x="861" y="383" width="1" height="21" fill="#000"/>
<rect x="861" y="411" width="1" height="31" fill="#000"/>
<rect x="859.5" y="403.5" width="4" height="8" fill="none" stroke="#000" stroke-width="1"/>
<rect x="868" y="357" width="1" height="23" fill="#000"/>
<rect x="868" y="405" width="1" height="2" fill="#000"/>
<rect x="866.5" y="379.5" width="4" height="26" fill="none" stroke="#000" stroke-width="1"/>
<rect x="875" y="377" width="1" height="73" fill="#000"/>
<rect x="873" y="392" width="5" height="18" fill="#000"/>
<rect x="879" y="399" width="5" height="1" fill="#000"/>
<rect x="514" y="128" width="686" height="1" fill="#800080"/>
<rect x="514" y="489" width="686" height="1" fill="#800080"/>
<rect x="671" y="200" width="529" height="1" fill="#0000ff"/>
<rect x="671" y="292" width="529" height="1" fill="#0000ff"/>
<line x1="671" y1="348.5" x2="1200" y2="348.5" stroke="#0000ff" stroke-width="1" stroke-dasharray="3 3"/>
<line x1="671" y1="441.5" x2="1200" y2="441.5" stroke="#0000ff" stroke-width="1" stroke-dasharray="3 3"/>
<path d="M297 220h58v1h-58zM291 221h6v1h-6zM355 221h15v1h-15zM287 222h4v1h-4zM370 222h9v1h-9zM283 223h4v1h-4zM379 223h3v1h-3zM279 224h4v1h-4zM382 224h4v1h-4zM276 225h3v1h-3zM386 225h2v1h-2zM272 226h4v1h-4zM388 226h2v1h-2zM269 227h3v1h-3zM390 227h2v1h-2zM265 228h4v1h-4zM392 228h2v1h-2zM262 229h3v1h-3zM394 229h2v1h-2zM259 230h3v1h-3zM396 230h2v1h-2zM255 231h4v1h-4zM398 231h2v1h-2zM252 232h3v1h-3zM400 232h2v1h-2zM249 233h3v1h-3zM402 233h2v1h-2zM247 234h2v1h-2zM404 234h2v1h-2zM244 235h3v1h-3zM406 235h3v1h-3zM242 236h2v1h-2zM409 236h2v1h-2zM239 237h3v1h-3zM411 237h3v1h-3zM236 238h3v1h-3zM414 238h2v1h-2zM234 239h2v1h-2zM416 239h2v1h-2zM231 240h3v1h-3zM418 240h3v1h-3zM228 241h3v1h-3zM421 241h2v1h-2zM224 242h4v1h-4zM423 242h2v1h-2zM221 243h3v1h-3zM425 243h1v1h-1zM218 244h3v1h-3zM426 244h1v1h-1zM214 245h4v1h-4zM427 245h2v1h-2zM212 246h2v1h-2zM429 246h1v1h-1zM210 247h2v1h-2zM430 247h1v1h-1zM208 248h2v1h-2zM431 248h2v1h-2zM206 249h2v1h-2zM433 249h2v1h-2zM204 250h2v1h-2zM435 250h2v1h-2zM202 251h2v1h-2zM437 251h2v1h-2zM201 252h1v1h-1zM439 252h1v1h-1zM199 253h2v1h-2zM440 253h2v1h-2zM197 254h2v1h-2zM442 254h2v1h-2zM195 255h2v1h-2zM444 255h2v1h-2zM193 256h2v1h-2zM446 256h2v1h-2zM191 257h2v1h-2zM448 257h1v1h-1zM187 258h4v1h-4zM449 258h2v1h-2zM184 259h3v1h-3zM451 259h2v1h-2zM180 260h4v1h-4zM453 260h2v1h-2zM177 261h3v1h-3zM455 261h2v1h-2zM175 262h2v1h-2zM457 262h2v1h-2zM173 263h2v1h-2zM459 263h2v1h-2zM171 264h2v1h-2zM461 264h1v1h-1zM169 265h2v1h-2zM462 265h2v1h-2zM167 266h2v1h-2zM464 266h1v1h-1zM165 267h2v1h-2zM465 267h2v1h-2zM163 268h2v1h-2zM467 268h2v1h-2zM161 269h2v1h-2zM469 269h1v1h-1zM160 270h1v1h-1zM470 270h2v1h-2zM158 271h2v1h-2zM472 271h1v1h-1zM157 272h1v1h-1zM473 272h2v1h-2zM155 273h2v1h-2zM475 273h2v1h-2zM154 274h1v1h-1zM477 274h1v1h-1zM153 275h1v1h-1zM478 275h2v1h-2zM151 276h2v1h-2zM480 276h1v1h-1zM149 277h2v1h-2zM481 277h2v1h-2zM147 278h2v1h-2zM483 278h2v1h-2zM145 279h2v1h-2zM485 279h1v1h-1zM143 280h2v1h-2zM486 280h1v1h-1zM140 281h3v1h-3zM487 281h1v1h-1zM138 282h2v1h-2zM488 282h1v1h-1zM136 283h2v1h-2zM489 283h1v1h-1zM134 284h2v1h-2zM490 284h1v1h-1zM132 285h2v1h-2zM491 285h1v1h-1zM130 286h2v1h-2zM492 286h1v1h-1zM129 287h1v1h-1zM493 287h1v1h-1zM128 288h1v1h-1zM494 288h1v1h-1zM126 289h2v1h-2zM495 289h1v1h-1zM125 290h1v1h-1zM496 290h1v1h-1zM124 291h1v1h-1zM497 291h1v1h-1zM122 292h2v1h-2zM498 292h2v1h-2zM121 293h1v1h-1zM500 293h1v1h-1zM118 294h3v1h-3zM501 294h1v1h-1zM114 295h4v1h-4zM502 295h1v1h-1zM110 296h4v1h-4zM503 296h1v1h-1zM108 297h2v1h-2zM504 297h2v1h-2zM106 298h2v1h-2zM506 298h1v1h-1zM104 299h2v1h-2zM507 299h1v1h-1zM102 300h2v1h-2zM508 300h1v1h-1zM100 301h2v1h-2zM509 301h2v1h-2zM98 302h2v1h-2zM511 302h1v1h-1zM96 303h2v1h-2zM512 303h1v1h-1zM93 304h3v1h-3zM513 304h1v1h-1zM91 305h2v1h-2zM514 305h1v1h-1zM89 306h2v1h-2zM515 306h2v1h-2zM86 307h3v1h-3zM517 307h1v1h-1zM84 308h2v1h-2zM518 308h1v1h-1zM82 309h2v1h-2zM519 309h2v1h-2zM77 310h5v1h-5zM521 310h2v1h-2zM70 311h7v1h-7zM523 311h2v1h-2zM50 312h20v1h-20zM525 312h2v1h-2zM527 313h2v1h-2zM529 314h1v1h-1zM828 314h15v1h-15zM530 315h2v1h-2zM819 315h9v1h-9zM843 315h4v1h-4zM532 316h2v1h-2zM813 316h6v1h-6zM847 316h6v1h-6zM534 317h2v1h-2zM808 317h5v1h-5zM853 317h6v1h-6zM536 318h2v1h-2zM806 318h2v1h-2zM859 318h6v1h-6zM538 319h2v1h-2zM804 319h2v1h-2zM865 319h4v1h-4zM540 320h2v1h-2zM801 320h3v1h-3zM869 320h4v1h-4zM542 321h2v1h-2zM799 321h2v1h-2zM873 321h8v1h-8zM544 322h2v1h-2zM796 322h3v1h-3zM546 323h3v1h-3zM794 323h2v1h-2zM549 324h2v1h-2zM792 324h2v1h-2zM551 325h3v1h-3zM789 325h3v1h-3zM554 326h3v1h-3zM787 326h2v1h-2zM557 327h2v1h-2zM785 327h2v1h-2zM559 328h3v1h-3zM782 328h3v1h-3zM562 329h2v1h-2zM778 329h4v1h-4zM564 330h3v1h-3zM774 330h4v1h-4zM567 331h2v1h-2zM770 331h4v1h-4zM569 332h2v1h-2zM767 332h3v1h-3zM571 333h2v1h-2zM763 333h4v1h-4zM573 334h2v1h-2zM759 334h4v1h-4zM575 335h2v1h-2zM756 335h3v1h-3zM577 336h2v1h-2zM752 336h4v1h-4zM579 337h4v1h-4zM748 337h4v1h-4zM583 338h6v1h-6zM744 338h4v1h-4zM589 339h6v1h-6zM741 339h3v1h-3zM595 340h6v1h-6zM737 340h4v1h-4zM601 341h7v1h-7zM734 341h3v1h-3zM608 342h8v1h-8zM731 342h3v1h-3zM616 343h6v1h-6zM727 343h4v1h-4zM622 344h5v1h-5zM724 344h3v1h-3zM627 345h4v1h-4zM721 345h3v1h-3zM631 346h5v1h-5zM717 346h4v1h-4zM636 347h6v1h-6zM714 347h3v1h-3zM642 348h6v1h-6zM711 348h3v1h-3zM648 349h6v1h-6zM707 349h4v1h-4zM654 350h6v1h-6zM704 350h3v1h-3zM660 351h5v1h-5zM700 351h4v1h-4zM665 352h4v1h-4zM697 352h3v1h-3zM669 353h4v1h-4zM693 353h4v1h-4zM673 354h4v1h-4zM689 354h4v1h-4zM677 355h4v1h-4zM685 355h4v1h-4zM681 356h4v1h-4z" fill="#cda56f"/>
<path d="M178 165h2v1h-2zM177 166h1v1h-1zM180 166h2v1h-2zM176 167h1v1h-1zM182 167h3v1h-3zM175 168h1v1h-1zM185 168h2v1h-2zM174 169h1v1h-1zM187 169h2v1h-2zM173 170h1v1h-1zM189 170h3v1h-3zM172 171h1v1h-1zM192 171h2v1h-2zM170 172h2v1h-2zM194 172h4v1h-4zM169 173h1v1h-1zM198 173h4v1h-4zM167 174h2v1h-2zM202 174h4v1h-4zM166 175h1v1h-1zM206 175h4v1h-4zM164 176h2v1h-2zM210 176h5v1h-5zM163 177h1v1h-1zM215 177h4v1h-4zM162 178h1v1h-1zM219 178h2v1h-2zM161 179h1v1h-1zM221 179h2v1h-2zM161 180h1v1h-1zM223 180h2v1h-2zM160 181h1v1h-1zM225 181h1v1h-1zM159 182h1v1h-1zM226 182h1v1h-1zM158 183h1v1h-1zM227 183h2v1h-2zM158 184h1v1h-1zM229 184h1v1h-1zM157 185h1v1h-1zM230 185h1v1h-1zM156 186h1v1h-1zM231 186h1v1h-1zM155 187h1v1h-1zM232 187h2v1h-2zM155 188h1v1h-1zM234 188h1v1h-1zM154 189h1v1h-1zM235 189h1v1h-1zM153 190h1v1h-1zM236 190h1v1h-1zM152 191h1v1h-1zM237 191h2v1h-2zM150 192h2v1h-2zM239 192h1v1h-1zM149 193h1v1h-1zM240 193h1v1h-1zM148 194h1v1h-1zM241 194h1v1h-1zM147 195h1v1h-1zM242 195h1v1h-1zM146 196h1v1h-1zM243 196h1v1h-1zM146 197h1v1h-1zM244 197h1v1h-1zM145 198h1v1h-1zM245 198h1v1h-1zM144 199h1v1h-1zM246 199h1v1h-1zM143 200h1v1h-1zM247 200h1v1h-1zM142 201h1v1h-1zM248 201h2v1h-2zM141 202h1v1h-1zM250 202h1v1h-1zM141 203h1v1h-1zM251 203h1v1h-1zM140 204h1v1h-1zM252 204h1v1h-1zM139 205h1v1h-1zM253 205h1v1h-1zM138 206h1v1h-1zM254 206h1v1h-1zM138 207h1v1h-1zM255 207h1v1h-1zM137 208h1v1h-1zM256 208h1v1h-1zM137 209h1v1h-1zM257 209h2v1h-2zM136 210h1v1h-1zM259 210h1v1h-1zM136 211h1v1h-1zM260 211h2v1h-2zM135 212h1v1h-1zM262 212h1v1h-1zM134 213h1v1h-1zM263 213h2v1h-2zM134 214h1v1h-1zM265 214h2v1h-2zM133 215h1v1h-1zM267 215h1v1h-1zM133 216h1v1h-1zM268 216h2v1h-2zM132 217h1v1h-1zM270 217h2v1h-2zM131 218h1v1h-1zM272 218h3v1h-3zM131 219h1v1h-1zM275 219h4v1h-4zM130 220h1v1h-1zM279 220h3v1h-3zM129 221h1v1h-1zM282 221h3v1h-3zM129 222h1v1h-1zM285 222h2v1h-2zM128 223h1v1h-1zM287 223h2v1h-2zM127 224h1v1h-1zM289 224h3v1h-3zM127 225h1v1h-1zM292 225h2v1h-2zM126 226h1v1h-1zM294 226h2v1h-2zM125 227h1v1h-1zM296 227h1v1h-1zM125 228h1v1h-1zM297 228h1v1h-1zM124 229h1v1h-1zM298 229h1v1h-1zM123 230h1v1h-1zM299 230h1v1h-1zM123 231h1v1h-1zM300 231h1v1h-1zM122 232h1v1h-1zM301 232h1v1h-1zM121 233h1v1h-1zM302 233h1v1h-1zM121 234h1v1h-1zM303 234h1v1h-1zM120 235h1v1h-1zM304 235h1v1h-1zM119 236h1v1h-1zM305 236h1v1h-1zM118 237h1v1h-1zM306 237h1v1h-1zM117 238h1v1h-1zM307 238h1v1h-1zM117 239h1v1h-1zM308 239h1v1h-1zM116 240h1v1h-1zM309 240h1v1h-1zM115 241h1v1h-1zM310 241h1v1h-1zM114 242h1v1h-1zM311 242h1v1h-1zM113 243h1v1h-1zM312 243h1v1h-1zM112 244h1v1h-1zM313 244h1v1h-1zM111 245h1v1h-1zM314 245h1v1h-1zM110 246h1v1h-1zM315 246h2v1h-2zM110 247h1v1h-1zM317 247h1v1h-1zM109 248h1v1h-1zM318 248h1v1h-1zM108 249h1v1h-1zM319 249h1v1h-1zM107 250h1v1h-1zM320 250h1v1h-1zM781 250h3v1h-3zM106 251h1v1h-1zM321 251h1v1h-1zM778 251h3v1h-3zM784 251h1v1h-1zM105 252h1v1h-1zM322 252h1v1h-1zM776 252h2v1h-2zM784 252h1v1h-1zM105 253h1v1h-1zM323 253h1v1h-1zM774 253h2v1h-2zM785 253h1v1h-1zM104 254h1v1h-1zM324 254h1v1h-1zM772 254h2v1h-2zM786 254h1v1h-1zM104 255h1v1h-1zM325 255h1v1h-1zM770 255h2v1h-2zM786 255h1v1h-1zM103 256h1v1h-1zM326 256h2v1h-2zM768 256h2v1h-2zM787 256h1v1h-1zM102 257h1v1h-1zM328 257h1v1h-1zM766 257h2v1h-2zM788 257h1v1h-1zM102 258h1v1h-1zM329 258h2v1h-2zM765 258h1v1h-1zM788 258h1v1h-1zM101 259h1v1h-1zM331 259h1v1h-1zM763 259h2v1h-2zM789 259h1v1h-1zM101 260h1v1h-1zM332 260h2v1h-2zM762 260h1v1h-1zM790 260h1v1h-1zM100 261h1v1h-1zM334 261h1v1h-1zM761 261h1v1h-1zM790 261h1v1h-1zM99 262h1v1h-1zM335 262h2v1h-2zM759 262h2v1h-2zM791 262h1v1h-1zM99 263h1v1h-1zM337 263h2v1h-2zM758 263h1v1h-1zM792 263h1v1h-1zM98 264h1v1h-1zM339 264h1v1h-1zM757 264h1v1h-1zM792 264h1v1h-1zM97 265h1v1h-1zM340 265h2v1h-2zM755 265h2v1h-2zM793 265h1v1h-1zM97 266h1v1h-1zM342 266h1v1h-1zM754 266h1v1h-1zM794 266h1v1h-1zM96 267h1v1h-1zM343 267h2v1h-2zM753 267h1v1h-1zM795 267h1v1h-1zM95 268h1v1h-1zM345 268h1v1h-1zM751 268h2v1h-2zM795 268h1v1h-1zM95 269h1v1h-1zM346 269h2v1h-2zM750 269h1v1h-1zM796 269h1v1h-1zM94 270h1v1h-1zM348 270h2v1h-2zM749 270h1v1h-1zM797 270h1v1h-1zM93 271h1v1h-1zM350 271h4v1h-4zM748 271h1v1h-1zM798 271h1v1h-1zM93 272h1v1h-1zM354 272h4v1h-4zM747 272h1v1h-1zM799 272h1v1h-1zM92 273h1v1h-1zM358 273h3v1h-3zM745 273h2v1h-2zM800 273h1v1h-1zM92 274h1v1h-1zM361 274h2v1h-2zM744 274h1v1h-1zM800 274h1v1h-1zM91 275h1v1h-1zM363 275h2v1h-2zM743 275h1v1h-1zM801 275h1v1h-1zM91 276h1v1h-1zM365 276h1v1h-1zM742 276h1v1h-1zM802 276h1v1h-1zM90 277h1v1h-1zM366 277h2v1h-2zM741 277h1v1h-1zM803 277h1v1h-1zM89 278h1v1h-1zM368 278h2v1h-2zM740 278h1v1h-1zM804 278h1v1h-1zM89 279h1v1h-1zM370 279h1v1h-1zM739 279h1v1h-1zM805 279h1v1h-1zM88 280h1v1h-1zM371 280h2v1h-2zM738 280h1v1h-1zM805 280h1v1h-1zM88 281h1v1h-1zM373 281h2v1h-2zM737 281h1v1h-1zM806 281h1v1h-1zM87 282h1v1h-1zM375 282h3v1h-3zM736 282h1v1h-1zM807 282h1v1h-1zM86 283h1v1h-1zM378 283h6v1h-6zM735 283h1v1h-1zM808 283h1v1h-1zM86 284h1v1h-1zM384 284h4v1h-4zM734 284h1v1h-1zM809 284h2v1h-2zM85 285h1v1h-1zM388 285h2v1h-2zM733 285h1v1h-1zM811 285h1v1h-1zM84 286h1v1h-1zM390 286h1v1h-1zM732 286h1v1h-1zM812 286h1v1h-1zM84 287h1v1h-1zM391 287h2v1h-2zM731 287h1v1h-1zM813 287h1v1h-1zM83 288h1v1h-1zM393 288h2v1h-2zM730 288h1v1h-1zM814 288h1v1h-1zM83 289h1v1h-1zM395 289h3v1h-3zM729 289h1v1h-1zM815 289h2v1h-2zM82 290h1v1h-1zM398 290h4v1h-4zM728 290h1v1h-1zM817 290h1v1h-1zM81 291h1v1h-1zM402 291h5v1h-5zM727 291h1v1h-1zM818 291h1v1h-1zM81 292h1v1h-1zM407 292h4v1h-4zM726 292h1v1h-1zM819 292h1v1h-1zM79 293h2v1h-2zM411 293h20v1h-20zM725 293h1v1h-1zM819 293h1v1h-1zM77 294h2v1h-2zM431 294h2v1h-2zM724 294h1v1h-1zM820 294h1v1h-1zM75 295h2v1h-2zM433 295h3v1h-3zM723 295h1v1h-1zM821 295h1v1h-1zM73 296h2v1h-2zM436 296h9v1h-9zM722 296h1v1h-1zM821 296h1v1h-1zM71 297h2v1h-2zM445 297h2v1h-2zM721 297h1v1h-1zM822 297h1v1h-1zM69 298h2v1h-2zM447 298h3v1h-3zM720 298h1v1h-1zM823 298h1v1h-1zM67 299h2v1h-2zM450 299h2v1h-2zM719 299h1v1h-1zM823 299h1v1h-1zM65 300h2v1h-2zM452 300h2v1h-2zM718 300h1v1h-1zM824 300h1v1h-1zM64 301h1v1h-1zM454 301h2v1h-2zM717 301h1v1h-1zM824 301h1v1h-1zM63 302h1v1h-1zM456 302h2v1h-2zM716 302h1v1h-1zM825 302h1v1h-1zM61 303h2v1h-2zM458 303h2v1h-2zM715 303h1v1h-1zM826 303h1v1h-1zM60 304h1v1h-1zM460 304h2v1h-2zM714 304h1v1h-1zM826 304h1v1h-1zM58 305h2v1h-2zM462 305h1v1h-1zM713 305h1v1h-1zM827 305h1v1h-1zM57 306h1v1h-1zM463 306h1v1h-1zM712 306h1v1h-1zM828 306h1v1h-1zM55 307h2v1h-2zM464 307h1v1h-1zM711 307h1v1h-1zM829 307h1v1h-1zM54 308h1v1h-1zM465 308h1v1h-1zM710 308h1v1h-1zM829 308h1v1h-1zM53 309h1v1h-1zM466 309h1v1h-1zM709 309h1v1h-1zM830 309h1v1h-1zM51 310h2v1h-2zM467 310h1v1h-1zM708 310h1v1h-1zM831 310h1v1h-1zM50 311h1v1h-1zM468 311h1v1h-1zM707 311h1v1h-1zM832 311h1v1h-1zM469 312h1v1h-1zM706 312h1v1h-1zM832 312h1v1h-1zM470 313h1v1h-1zM704 313h2v1h-2zM833 313h1v1h-1zM471 314h1v1h-1zM703 314h1v1h-1zM834 314h1v1h-1zM472 315h1v1h-1zM702 315h1v1h-1zM835 315h1v1h-1zM473 316h1v1h-1zM701 316h1v1h-1zM835 316h1v1h-1zM474 317h1v1h-1zM700 317h1v1h-1zM836 317h1v1h-1zM474 318h1v1h-1zM699 318h1v1h-1zM837 318h1v1h-1zM475 319h1v1h-1zM698 319h1v1h-1zM837 319h1v1h-1zM476 320h1v1h-1zM697 320h1v1h-1zM838 320h1v1h-1zM477 321h1v1h-1zM696 321h1v1h-1zM839 321h1v1h-1zM477 322h1v1h-1zM695 322h1v1h-1zM840 322h1v1h-1zM478 323h1v1h-1zM695 323h1v1h-1zM840 323h1v1h-1zM479 324h1v1h-1zM694 324h1v1h-1zM841 324h1v1h-1zM479 325h1v1h-1zM693 325h1v1h-1zM842 325h1v1h-1zM480 326h1v1h-1zM692 326h1v1h-1zM842 326h1v1h-1zM481 327h1v1h-1zM692 327h1v1h-1zM843 327h1v1h-1zM481 328h1v1h-1zM691 328h1v1h-1zM844 328h1v1h-1zM482 329h1v1h-1zM690 329h1v1h-1zM844 329h1v1h-1zM483 330h1v1h-1zM690 330h1v1h-1zM845 330h1v1h-1zM484 331h1v1h-1zM689 331h1v1h-1zM846 331h1v1h-1zM484 332h1v1h-1zM688 332h1v1h-1zM846 332h1v1h-1zM485 333h1v1h-1zM688 333h1v1h-1zM847 333h1v1h-1zM486 334h1v1h-1zM687 334h1v1h-1zM848 334h1v1h-1zM486 335h1v1h-1zM686 335h1v1h-1zM848 335h1v1h-1zM487 336h1v1h-1zM685 336h1v1h-1zM849 336h1v1h-1zM488 337h1v1h-1zM685 337h1v1h-1zM850 337h1v1h-1zM489 338h1v1h-1zM671 338h14v1h-14zM850 338h1v1h-1zM489 339h1v1h-1zM657 339h14v1h-14zM851 339h1v1h-1zM490 340h1v1h-1zM654 340h3v1h-3zM852 340h1v1h-1zM491 341h1v1h-1zM650 341h4v1h-4zM852 341h1v1h-1zM491 342h1v1h-1zM647 342h3v1h-3zM853 342h1v1h-1zM492 343h1v1h-1zM644 343h3v1h-3zM854 343h1v1h-1zM493 344h1v1h-1zM640 344h4v1h-4zM854 344h1v1h-1zM493 345h1v1h-1zM637 345h3v1h-3zM855 345h1v1h-1zM494 346h1v1h-1zM635 346h2v1h-2zM856 346h1v1h-1zM495 347h1v1h-1zM634 347h1v1h-1zM856 347h1v1h-1zM496 348h1v1h-1zM632 348h2v1h-2zM857 348h1v1h-1zM496 349h1v1h-1zM631 349h1v1h-1zM858 349h1v1h-1zM497 350h1v1h-1zM630 350h1v1h-1zM859 350h1v1h-1zM498 351h1v1h-1zM629 351h1v1h-1zM860 351h1v1h-1zM498 352h1v1h-1zM627 352h2v1h-2zM861 352h1v1h-1zM499 353h1v1h-1zM626 353h1v1h-1zM862 353h1v1h-1zM500 354h1v1h-1zM624 354h2v1h-2zM862 354h1v1h-1zM501 355h1v1h-1zM621 355h3v1h-3zM863 355h1v1h-1zM501 356h1v1h-1zM619 356h2v1h-2zM864 356h1v1h-1zM502 357h1v1h-1zM617 357h2v1h-2zM865 357h1v1h-1zM503 358h1v1h-1zM616 358h1v1h-1zM866 358h1v1h-1zM504 359h1v1h-1zM615 359h1v1h-1zM867 359h1v1h-1zM504 360h1v1h-1zM613 360h2v1h-2zM868 360h1v1h-1zM505 361h1v1h-1zM612 361h1v1h-1zM869 361h1v1h-1zM506 362h1v1h-1zM611 362h1v1h-1zM870 362h1v1h-1zM507 363h1v1h-1zM611 363h1v1h-1zM870 363h1v1h-1zM507 364h1v1h-1zM610 364h1v1h-1zM871 364h1v1h-1zM508 365h1v1h-1zM609 365h1v1h-1zM872 365h1v1h-1zM509 366h1v1h-1zM608 366h1v1h-1zM873 366h1v1h-1zM509 367h1v1h-1zM608 367h1v1h-1zM874 367h1v1h-1zM510 368h1v1h-1zM607 368h1v1h-1zM875 368h1v1h-1zM511 369h1v1h-1zM606 369h1v1h-1zM876 369h1v1h-1zM512 370h1v1h-1zM605 370h1v1h-1zM877 370h1v1h-1zM512 371h1v1h-1zM605 371h1v1h-1zM877 371h1v1h-1zM513 372h1v1h-1zM604 372h1v1h-1zM878 372h1v1h-1zM514 373h1v1h-1zM603 373h1v1h-1zM879 373h1v1h-1zM514 374h1v1h-1zM602 374h1v1h-1zM880 374h1v1h-1zM515 375h1v1h-1zM602 375h1v1h-1zM516 376h1v1h-1zM601 376h1v1h-1zM516 377h1v1h-1zM600 377h1v1h-1zM517 378h1v1h-1zM599 378h1v1h-1zM518 379h1v1h-1zM599 379h1v1h-1zM519 380h1v1h-1zM598 380h1v1h-1zM519 381h1v1h-1zM597 381h1v1h-1zM520 382h1v1h-1zM596 382h1v1h-1zM521 383h1v1h-1zM595 383h1v1h-1zM522 384h1v1h-1zM595 384h1v1h-1zM523 385h2v1h-2zM594 385h1v1h-1zM525 386h1v1h-1zM593 386h1v1h-1zM526 387h1v1h-1zM592 387h1v1h-1zM527 388h1v1h-1zM592 388h1v1h-1zM528 389h1v1h-1zM591 389h1v1h-1zM529 390h2v1h-2zM590 390h1v1h-1zM531 391h1v1h-1zM589 391h1v1h-1zM532 392h1v1h-1zM588 392h1v1h-1zM533 393h1v1h-1zM588 393h1v1h-1zM534 394h2v1h-2zM587 394h1v1h-1zM536 395h1v1h-1zM586 395h1v1h-1zM537 396h2v1h-2zM584 396h2v1h-2zM539 397h1v1h-1zM582 397h2v1h-2zM540 398h2v1h-2zM580 398h2v1h-2zM542 399h2v1h-2zM578 399h2v1h-2zM544 400h1v1h-1zM576 400h2v1h-2zM545 401h2v1h-2zM574 401h2v1h-2zM547 402h2v1h-2zM571 402h3v1h-3zM549 403h2v1h-2zM569 403h2v1h-2zM551 404h18v1h-18z" fill="#ff4a0a"/>
<rect x="51" y="570" width="1149" height="1" fill="#0000ff"/>
<path d="M158 535h3v1h-3zM152 536h3v1h-3zM164 536h3v1h-3zM146 537h3v1h-3zM170 537h2v1h-2zM140 538h3v1h-3zM172 538h1v1h-1zM136 539h1v1h-1zM176 539h3v1h-3zM134 540h2v1h-2zM182 540h3v1h-3zM128 541h3v1h-3zM188 541h1v1h-1zM189 542h2v1h-2zM122 543h3v1h-3zM194 543h3v1h-3zM118 544h1v1h-1zM116 545h2v1h-2zM200 545h3v1h-3zM753 545h2v1h-2zM112 546h1v1h-1zM746 546h3v1h-3zM752 546h1v1h-1zM758 546h3v1h-3zM110 547h2v1h-2zM206 547h2v1h-2zM740 547h3v1h-3zM764 547h1v1h-1zM208 548h1v1h-1zM735 548h2v1h-2zM765 548h2v1h-2zM104 549h3v1h-3zM212 549h2v1h-2zM734 549h1v1h-1zM770 549h3v1h-3zM214 550h1v1h-1zM728 550h3v1h-3zM776 550h3v1h-3zM100 551h1v1h-1zM218 551h3v1h-3zM782 551h2v1h-2zM98 552h2v1h-2zM224 552h2v1h-2zM722 552h3v1h-3zM784 552h1v1h-1zM226 553h1v1h-1zM94 554h1v1h-1zM230 554h1v1h-1zM716 554h3v1h-3zM788 554h2v1h-2zM93 555h1v1h-1zM231 555h2v1h-2zM790 555h1v1h-1zM92 556h1v1h-1zM711 556h2v1h-2zM236 557h3v1h-3zM710 557h1v1h-1zM794 557h2v1h-2zM87 558h2v1h-2zM706 558h1v1h-1zM796 558h1v1h-1zM86 559h1v1h-1zM242 559h2v1h-2zM704 559h2v1h-2zM81 560h2v1h-2zM244 560h1v1h-1zM800 560h2v1h-2zM74 561h3v1h-3zM80 561h1v1h-1zM248 561h3v1h-3zM699 561h2v1h-2zM802 561h1v1h-1zM62 562h3v1h-3zM68 562h3v1h-3zM254 562h1v1h-1zM698 562h1v1h-1zM56 563h3v1h-3zM255 563h2v1h-2zM806 563h3v1h-3zM50 564h3v1h-3zM260 564h2v1h-2zM693 564h2v1h-2zM262 565h1v1h-1zM688 565h1v1h-1zM692 565h1v1h-1zM812 565h1v1h-1zM266 566h1v1h-1zM681 566h2v1h-2zM686 566h2v1h-2zM813 566h2v1h-2zM267 567h2v1h-2zM669 567h2v1h-2zM674 567h3v1h-3zM680 567h1v1h-1zM272 568h3v1h-3zM657 568h2v1h-2zM662 568h3v1h-3zM668 568h1v1h-1zM818 568h1v1h-1zM278 569h3v1h-3zM650 569h3v1h-3zM656 569h1v1h-1zM819 569h2v1h-2zM284 570h3v1h-3zM639 570h2v1h-2zM644 570h3v1h-3zM290 571h1v1h-1zM633 571h2v1h-2zM638 571h1v1h-1zM824 571h2v1h-2zM291 572h2v1h-2zM626 572h3v1h-3zM632 572h1v1h-1zM826 572h1v1h-1zM296 573h2v1h-2zM620 573h3v1h-3zM830 573h1v1h-1zM298 574h1v1h-1zM614 574h3v1h-3zM831 574h2v1h-2zM302 575h1v1h-1zM609 575h2v1h-2zM303 576h2v1h-2zM608 576h1v1h-1zM836 576h3v1h-3zM308 577h1v1h-1zM602 577h3v1h-3zM309 578h2v1h-2zM842 578h2v1h-2zM314 579h2v1h-2zM597 579h2v1h-2zM844 579h1v1h-1zM316 580h1v1h-1zM596 580h1v1h-1zM848 580h2v1h-2zM320 581h3v1h-3zM850 581h1v1h-1zM326 582h1v1h-1zM591 582h2v1h-2zM327 583h2v1h-2zM590 583h1v1h-1zM854 583h3v1h-3zM332 584h3v1h-3zM392 584h3v1h-3zM398 584h3v1h-3zM338 585h3v1h-3zM382 585h1v1h-1zM386 585h3v1h-3zM404 585h3v1h-3zM410 585h3v1h-3zM416 585h3v1h-3zM440 585h3v1h-3zM446 585h3v1h-3zM452 585h3v1h-3zM458 585h1v1h-1zM585 585h2v1h-2zM860 585h2v1h-2zM344 586h3v1h-3zM374 586h3v1h-3zM380 586h2v1h-2zM422 586h3v1h-3zM428 586h3v1h-3zM434 586h3v1h-3zM459 586h2v1h-2zM464 586h2v1h-2zM584 586h1v1h-1zM862 586h1v1h-1zM350 587h3v1h-3zM356 587h3v1h-3zM362 587h3v1h-3zM368 587h3v1h-3zM466 587h1v1h-1zM470 587h2v1h-2zM580 587h1v1h-1zM472 588h1v1h-1zM578 588h2v1h-2zM866 588h3v1h-3zM872 588h3v1h-3zM476 589h3v1h-3zM482 590h3v1h-3zM573 590h2v1h-2zM878 590h2v1h-2zM488 591h1v1h-1zM572 591h1v1h-1zM489 592h2v1h-2zM494 593h1v1h-1zM567 593h2v1h-2zM495 594h2v1h-2zM566 594h1v1h-1zM560 596h3v1h-3zM500 597h2v1h-2zM502 598h1v1h-1zM555 598h2v1h-2zM554 599h1v1h-1zM506 600h3v1h-3zM550 600h1v1h-1zM512 601h2v1h-2zM548 601h2v1h-2zM514 602h1v1h-1zM542 602h3v1h-3zM518 603h3v1h-3zM536 603h3v1h-3zM524 604h3v1h-3zM530 604h3v1h-3z" fill="#ff0000"/>
<path d="M138 532h11v1h-11zM130 533h8v1h-8zM149 533h7v1h-7zM120 534h10v1h-10zM156 534h5v1h-5zM110 535h10v1h-10zM161 535h2v1h-2zM106 536h4v1h-4zM163 536h3v1h-3zM104 537h2v1h-2zM166 537h2v1h-2zM102 538h2v1h-2zM168 538h2v1h-2zM100 539h2v1h-2zM170 539h3v1h-3zM98 540h2v1h-2zM173 540h2v1h-2zM96 541h2v1h-2zM175 541h2v1h-2zM94 542h2v1h-2zM177 542h1v1h-1zM734 542h10v1h-10zM93 543h1v1h-1zM178 543h1v1h-1zM720 543h14v1h-14zM744 543h7v1h-7zM92 544h1v1h-1zM179 544h2v1h-2zM710 544h10v1h-10zM751 544h3v1h-3zM91 545h1v1h-1zM181 545h1v1h-1zM708 545h2v1h-2zM754 545h3v1h-3zM90 546h1v1h-1zM182 546h1v1h-1zM706 546h2v1h-2zM757 546h3v1h-3zM89 547h1v1h-1zM183 547h2v1h-2zM703 547h3v1h-3zM760 547h2v1h-2zM88 548h1v1h-1zM185 548h3v1h-3zM701 548h2v1h-2zM762 548h2v1h-2zM87 549h1v1h-1zM188 549h3v1h-3zM699 549h2v1h-2zM764 549h1v1h-1zM86 550h1v1h-1zM191 550h3v1h-3zM697 550h2v1h-2zM765 550h2v1h-2zM85 551h1v1h-1zM194 551h3v1h-3zM696 551h1v1h-1zM767 551h1v1h-1zM84 552h1v1h-1zM197 552h5v1h-5zM696 552h1v1h-1zM768 552h2v1h-2zM83 553h1v1h-1zM202 553h4v1h-4zM695 553h1v1h-1zM770 553h2v1h-2zM82 554h1v1h-1zM206 554h2v1h-2zM694 554h1v1h-1zM772 554h2v1h-2zM81 555h1v1h-1zM208 555h2v1h-2zM693 555h1v1h-1zM774 555h2v1h-2zM80 556h1v1h-1zM210 556h2v1h-2zM693 556h1v1h-1zM776 556h3v1h-3zM65 557h15v1h-15zM212 557h2v1h-2zM692 557h1v1h-1zM779 557h2v1h-2zM62 558h3v1h-3zM214 558h4v1h-4zM691 558h1v1h-1zM781 558h2v1h-2zM58 559h4v1h-4zM218 559h4v1h-4zM690 559h1v1h-1zM783 559h1v1h-1zM55 560h3v1h-3zM222 560h3v1h-3zM690 560h1v1h-1zM784 560h1v1h-1zM52 561h3v1h-3zM225 561h2v1h-2zM689 561h1v1h-1zM785 561h1v1h-1zM50 562h2v1h-2zM227 562h2v1h-2zM688 562h1v1h-1zM786 562h1v1h-1zM229 563h1v1h-1zM650 563h6v1h-6zM687 563h1v1h-1zM787 563h1v1h-1zM230 564h2v1h-2zM645 564h5v1h-5zM656 564h9v1h-9zM687 564h1v1h-1zM788 564h1v1h-1zM232 565h2v1h-2zM641 565h4v1h-4zM665 565h13v1h-13zM686 565h1v1h-1zM789 565h1v1h-1zM234 566h3v1h-3zM638 566h3v1h-3zM678 566h8v1h-8zM790 566h1v1h-1zM237 567h4v1h-4zM612 567h6v1h-6zM635 567h3v1h-3zM791 567h1v1h-1zM241 568h5v1h-5zM608 568h4v1h-4zM618 568h17v1h-17zM792 568h2v1h-2zM246 569h3v1h-3zM604 569h4v1h-4zM794 569h2v1h-2zM249 570h3v1h-3zM600 570h4v1h-4zM796 570h2v1h-2zM252 571h2v1h-2zM596 571h4v1h-4zM798 571h1v1h-1zM254 572h2v1h-2zM592 572h4v1h-4zM799 572h2v1h-2zM256 573h3v1h-3zM589 573h3v1h-3zM801 573h2v1h-2zM259 574h2v1h-2zM269 574h9v1h-9zM586 574h3v1h-3zM803 574h2v1h-2zM261 575h8v1h-8zM278 575h4v1h-4zM584 575h2v1h-2zM805 575h2v1h-2zM282 576h5v1h-5zM581 576h3v1h-3zM807 576h2v1h-2zM287 577h6v1h-6zM578 577h3v1h-3zM809 577h3v1h-3zM293 578h4v1h-4zM575 578h3v1h-3zM812 578h3v1h-3zM297 579h2v1h-2zM572 579h3v1h-3zM815 579h3v1h-3zM299 580h2v1h-2zM570 580h2v1h-2zM818 580h3v1h-3zM301 581h2v1h-2zM387 581h3v1h-3zM568 581h2v1h-2zM821 581h3v1h-3zM303 582h2v1h-2zM383 582h4v1h-4zM390 582h4v1h-4zM566 582h2v1h-2zM824 582h2v1h-2zM305 583h2v1h-2zM380 583h3v1h-3zM394 583h5v1h-5zM565 583h1v1h-1zM826 583h2v1h-2zM307 584h2v1h-2zM376 584h4v1h-4zM399 584h4v1h-4zM563 584h2v1h-2zM828 584h2v1h-2zM309 585h3v1h-3zM371 585h5v1h-5zM403 585h5v1h-5zM419 585h31v1h-31zM561 585h2v1h-2zM830 585h2v1h-2zM312 586h2v1h-2zM367 586h4v1h-4zM408 586h11v1h-11zM450 586h7v1h-7zM560 586h1v1h-1zM832 586h2v1h-2zM314 587h3v1h-3zM362 587h5v1h-5zM457 587h3v1h-3zM559 587h1v1h-1zM834 587h3v1h-3zM317 588h3v1h-3zM358 588h4v1h-4zM460 588h4v1h-4zM557 588h2v1h-2zM837 588h3v1h-3zM320 589h4v1h-4zM354 589h4v1h-4zM464 589h3v1h-3zM556 589h1v1h-1zM840 589h4v1h-4zM324 590h30v1h-30zM467 590h2v1h-2zM555 590h1v1h-1zM844 590h3v1h-3zM469 591h2v1h-2zM553 591h2v1h-2zM847 591h3v1h-3zM471 592h3v1h-3zM552 592h1v1h-1zM850 592h3v1h-3zM474 593h2v1h-2zM551 593h1v1h-1zM853 593h3v1h-3zM476 594h2v1h-2zM550 594h1v1h-1zM856 594h3v1h-3zM864 594h6v1h-6zM478 595h3v1h-3zM548 595h2v1h-2zM859 595h5v1h-5zM870 595h12v1h-12zM481 596h4v1h-4zM547 596h1v1h-1zM485 597h3v1h-3zM545 597h2v1h-2zM488 598h1v1h-1zM542 598h3v1h-3zM489 599h1v1h-1zM539 599h3v1h-3zM490 600h1v1h-1zM537 600h2v1h-2zM491 601h1v1h-1zM535 601h2v1h-2zM492 602h1v1h-1zM533 602h2v1h-2zM493 603h1v1h-1zM531 603h2v1h-2zM494 604h1v1h-1zM529 604h2v1h-2zM495 605h1v1h-1zM528 605h1v1h-1zM496 606h1v1h-1zM526 606h2v1h-2zM497 607h1v1h-1zM524 607h2v1h-2zM498 608h2v1h-2zM522 608h2v1h-2zM500 609h2v1h-2zM520 609h2v1h-2zM502 610h2v1h-2zM518 610h2v1h-2zM504 611h4v1h-4zM514 611h4v1h-4zM508 612h6v1h-6z" fill="#ff0000"/>
<rect x="49" y="0" width="1" height="620" fill="#000"/>
<rect x="0" y="93" width="1250" height="1" fill="#000"/>
<rect x="0" y="526" width="1250" height="1" fill="#000"/>
<rect x="51" y="620" width="1149" height="1" fill="#000"/>
<rect x="47" y="7" width="2" height="1" fill="#000"/>
<rect x="1200" y="7" width="4" height="1" fill="#000"/>
<rect x="47" y="19" width="2" height="1" fill="#000"/>
<rect x="1200" y="19" width="4" height="1" fill="#000"/>
<rect x="47" y="31" width="2" height="1" fill="#000"/>
<rect x="1200" y="31" width="4" height="1" fill="#000"/>
<rect x="43" y="43" width="6" height="1" fill="#000"/>
<rect x="1200" y="43" width="8" height="1" fill="#000"/>
<rect x="47" y="55" width="2" height="1" fill="#000"/>
<rect x="1200" y="55" width="4" height="1" fill="#000"/>
<rect x="47" y="67" width="2" height="1" fill="#000"/>
<rect x="1200" y="67" width="4" height="1" fill="#000"/>
<rect x="47" y="79" width="2" height="1" fill="#000"/>
<rect x="1200" y="79" width="4" height="1" fill="#000"/>
<rect x="47" y="91" width="2" height="1" fill="#000"/>
<rect x="1200" y="91" width="4" height="1" fill="#000"/>
<text x="38" y="48.5" text-anchor="end">50</text>
<text x="1245.5" y="48.5" text-anchor="end">50</text>
<rect x="47" y="97" width="2" height="1" fill="#000"/>
<rect x="1200" y="97" width="4" height="1" fill="#000"/>
<rect x="43" y="105" width="6" height="1" fill="#000"/>
<rect x="1200" y="105" width="8" height="1" fill="#000"/>
<text x="38" y="112" text-anchor="end">3650</text>
<text x="1245.5" y="112" text-anchor="end">3650</text>
<rect x="47" y="115" width="2" height="1" fill="#000"/>
<rect x="1200" y="115" width="4" height="1" fill="#000"/>
<rect x="43" y="125" width="6" height="1" fill="#000"/>
<rect x="1200" y="125" width="8" height="1" fill="#000"/>
<text x="38" y="131" text-anchor="end">3640</text>
<text x="1245.5" y="131" text-anchor="end">3640</text>
<rect x="47" y="135" width="2" height="1" fill="#000"/>
<rect x="1200" y="135" width="4" height="1" fill="#000"/>
<rect x="43" y="145" width="6" height="1" fill="#000"/>
<rect x="1200" y="145" width="8" height="1" fill="#000"/>
<text x="38" y="151" text-anchor="end">3630</text>
<text x="1245.5" y="151" text-anchor="end">3630</text>
<rect x="47" y="155" width="2" height="1" fill="#000"/>
<rect x="1200" y="155" width="4" height="1" fill="#000"/>
<rect x="43" y="165" width="6" height="1" fill="#000"/>
<rect x="1200" y="165" width="8" height="1" fill="#000"/>
<text x="38" y="171" text-anchor="end">3620</text>
<text x="1245.5" y="171" text-anchor="end">3620</text>
<rect x="47" y="175" width="2" height="1" fill="#000"/>
<rect x="1200" y="175" width="4" height="1" fill="#000"/>
<rect x="43" y="184" width="6" height="1" fill="#000"/>
<rect x="1200" y="184" width="8" height="1" fill="#000"/>
<text x="38" y="190" text-anchor="end">3610</text>
<text x="1245.5" y="190" text-anchor="end">3610</text>
<rect x="47" y="194" width="2" height="1" fill="#000"/>
<rect x="1200" y="194" width="4" height="1" fill="#000"/>
<rect x="43" y="204" width="6" height="1" fill="#000"/>
<rect x="1200" y="204" width="8" height="1" fill="#000"/>
<text x="38" y="210" text-anchor="end">3600</text>
<text x="1245.5" y="210" text-anchor="end">3600</text>
<rect x="47" y="214" width="2" height="1" fill="#000"/>
<rect x="1200" y="214" width="4" height="1" fill="#000"/>
<rect x="43" y="224" width="6" height="1" fill="#000"/>
<rect x="1200" y="224" width="8" height="1" fill="#000"/>
<text x="38" y="230" text-anchor="end">3590</text>
<text x="1245.5" y="230" text-anchor="end">3590</text>
<rect x="47" y="234" width="2" height="1" fill="#000"/>
<rect x="1200" y="234" width="4" height="1" fill="#000"/>
<rect x="43" y="244" width="6" height="1" fill="#000"/>
<rect x="1200" y="244" width="8" height="1" fill="#000"/>
<text x="38" y="250" text-anchor="end">3580</text>
<text x="1245.5" y="250" text-anchor="end">3580</text>
<rect x="47" y="254" width="2" height="1" fill="#000"/>
<rect x="1200" y="254" width="4" height="1" fill="#000"/>
<rect x="43" y="264" width="6" height="1" fill="#000"/>
<rect x="1200" y="264" width="8" height="1" fill="#000"/>
<text x="38" y="270" text-anchor="end">3570</text>
<text x="1245.5" y="270" text-anchor="end">3570</text>
<rect x="47" y="274" width="2" height="1" fill="#000"/>
<rect x="1200" y="274" width="4" height="1" fill="#000"/>
<rect x="43" y="283" width="6" height="1" fill="#000"/>
<rect x="1200" y="283" width="8" height="1" fill="#000"/>
<text x="38" y="289" text-anchor="end">3560</text>
<text x="1245.5" y="289" text-anchor="end">3560</text>
<rect x="47" y="293" width="2" height="1" fill="#000"/>
<rect x="1200" y="293" width="4" height="1" fill="#000"/>
<rect x="43" y="303" width="6" height="1" fill="#000"/>
<rect x="1200" y="303" width="8" height="1" fill="#000"/>
<text x="38" y="309" text-anchor="end">3550</text>
<text x="1245.5" y="309" text-anchor="end">3550</text>
<rect x="47" y="312" width="2" height="1" fill="#000"/>
<rect x="1200" y="312" width="4" height="1" fill="#000"/>
<rect x="43" y="322" width="6" height="1" fill="#000"/>
<rect x="1200" y="322" width="8" height="1" fill="#000"/>
<text x="38" y="328" text-anchor="end">3540</text>
<text x="1245.5" y="328" text-anchor="end">3540</text>
<rect x="47" y="332" width="2" height="1" fill="#000"/>
<rect x="1200" y="332" width="4" height="1" fill="#000"/>
<rect x="43" y="342" width="6" height="1" fill="#000"/>
<rect x="1200" y="342" width="8" height="1" fill="#000"/>
<text x="38" y="348" text-anchor="end">3530</text>
<text x="1245.5" y="348" text-anchor="end">3530</text>
<rect x="47" y="351" width="2" height="1" fill="#000"/>
<rect x="1200" y="351" width="4" height="1" fill="#000"/>
<rect x="43" y="361" width="6" height="1" fill="#000"/>
<rect x="1200" y="361" width="8" height="1" fill="#000"/>
<text x="38" y="367" text-anchor="end">3520</text>
<text x="1245.5" y="367" text-anchor="end">3520</text>
<rect x="47" y="371" width="2" height="1" fill="#000"/>
<rect x="1200" y="371" width="4" height="1" fill="#000"/>
<rect x="43" y="381" width="6" height="1" fill="#000"/>
<rect x="1200" y="381" width="8" height="1" fill="#000"/>
<text x="38" y="387" text-anchor="end">3510</text>
<text x="1245.5" y="387" text-anchor="end">3510</text>
<rect x="47" y="391" width="2" height="1" fill="#000"/>
<rect x="1200" y="391" width="4" height="1" fill="#000"/>
<rect x="43" y="401" width="6" height="1" fill="#000"/>
<rect x="1200" y="401" width="8" height="1" fill="#000"/>
<text x="38" y="407" text-anchor="end">3500</text>
<text x="1245.5" y="407" text-anchor="end">3500</text>
<rect x="47" y="411" width="2" height="1" fill="#000"/>
<rect x="1200" y="411" width="4" height="1" fill="#000"/>
<rect x="43" y="421" width="6" height="1" fill="#000"/>
<rect x="1200" y="421" width="8" height="1" fill="#000"/>
<text x="38" y="427" text-anchor="end">3490</text>
<text x="1245.5" y="427" text-anchor="end">3490</text>
<rect x="47" y="431" width="2" height="1" fill="#000"/>
<rect x="1200" y="431" width="4" height="1" fill="#000"/>
<rect x="43" y="440" width="6" height="1" fill="#000"/>
<rect x="1200" y="440" width="8" height="1" fill="#000"/>
<text x="38" y="446" text-anchor="end">3480</text>
<text x="1245.5" y="446" text-anchor="end">3480</text>
<rect x="47" y="450" width="2" height="1" fill="#000"/>
<rect x="1200" y="450" width="4" height="1" fill="#000"/>
<rect x="43" y="460" width="6" height="1" fill="#000"/>
<rect x="1200" y="460" width="8" height="1" fill="#000"/>
<text x="38" y="466" text-anchor="end">3470</text>
<text x="1245.5" y="466" text-anchor="end">3470</text>
<rect x="47" y="470" width="2" height="1" fill="#000"/>
<rect x="1200" y="470" width="4" height="1" fill="#000"/>
<rect x="43" y="480" width="6" height="1" fill="#000"/>
<rect x="1200" y="480" width="8" height="1" fill="#000"/>
<text x="38" y="486" text-anchor="end">3460</text>
<text x="1245.5" y="486" text-anchor="end">3460</text>
<rect x="47" y="490" width="2" height="1" fill="#000"/>
<rect x="1200" y="490" width="4" height="1" fill="#000"/>
<rect x="43" y="500" width="6" height="1" fill="#000"/>
<rect x="1200" y="500" width="8" height="1" fill="#000"/>
<text x="38" y="506" text-anchor="end">3450</text>
<text x="1245.5" y="506" text-anchor="end">3450</text>
<rect x="47" y="510" width="2" height="1" fill="#000"/>
<rect x="1200" y="510" width="4" height="1" fill="#000"/>
<rect x="43" y="519" width="6" height="1" fill="#000"/>
<rect x="1200" y="519" width="8" height="1" fill="#000"/>
<text x="38" y="525" text-anchor="end">3440</text>
<text x="1245.5" y="525" text-anchor="end">3440</text>
<rect x="43" y="533" width="6" height="1" fill="#000"/>
<text x="38" y="540" text-anchor="end">20</text>
<rect x="47" y="542" width="2" height="1" fill="#000"/>
<rect x="43" y="552" width="6" height="1" fill="#000"/>
<text x="38" y="559" text-anchor="end">10</text>
<rect x="47" y="561" width="2" height="1" fill="#000"/>
<rect x="43" y="570" width="6" height="1" fill="#000"/>
<text x="38" y="577" text-anchor="end">0</text>
<rect x="47" y="579" width="2" height="1" fill="#000"/>
<rect x="43" y="589" width="6" height="1" fill="#000"/>
<text x="38" y="596" text-anchor="end">-10</text>
<rect x="47" y="598" width="2" height="1" fill="#000"/>
<rect x="43" y="607" width="6" height="1" fill="#000"/>
<text x="38" y="614" text-anchor="end">-20</text>
<rect x="47" y="617" width="2" height="1" fill="#000"/>
<rect x="1200" y="528" width="8" height="1" fill="#000"/>
<rect x="1200" y="536" width="4" height="1" fill="#000"/>
<rect x="1200" y="544" width="8" height="1" fill="#000"/>
<text x="1245.5" y="551" text-anchor="end">5000</text>
<rect x="1200" y="552" width="4" height="1" fill="#000"/>
<rect x="1200" y="560" width="8" height="1" fill="#000"/>
<text x="1245.5" y="566" text-anchor="end">4000</text>
<rect x="1200" y="568" width="4" height="1" fill="#000"/>
<rect x="1200" y="576" width="8" height="1" fill="#000"/>
<text x="1245.5" y="582" text-anchor="end">3000</text>
<rect x="1200" y="584" width="4" height="1" fill="#000"/>
<rect x="1200" y="592" width="8" height="1" fill="#000"/>
<text x="1245.5" y="598" text-anchor="end">2000</text>
<rect x="1200" y="600" width="4" height="1" fill="#000"/>
<rect x="1200" y="608" width="8" height="1" fill="#000"/>
<text x="1245.5" y="614" text-anchor="end">1000</text>
<rect x="1200" y="616" width="4" height="1" fill="#000"/>
<rect x="53" y="620" width="1" height="6" fill="#000"/>
<rect x="80" y="620" width="1" height="6" fill="#000"/>
<rect x="120" y="620" width="1" height="6" fill="#000"/>
<rect x="145" y="620" width="1" height="6" fill="#000"/>
<rect x="172" y="620" width="1" height="6" fill="#000"/>
<rect x="198" y="620" width="1" height="6" fill="#000"/>
<rect x="225" y="620" width="1" height="6" fill="#000"/>
<rect x="250" y="620" width="1" height="6" fill="#000"/>
<rect x="277" y="620" width="1" height="6" fill="#000"/>
<rect x="317" y="620" width="1" height="6" fill="#000"/>
<rect x="342" y="620" width="1" height="6" fill="#000"/>
<rect x="369" y="620" width="1" height="6" fill="#000"/>
<rect x="395" y="620" width="1" height="6" fill="#000"/>
<rect x="422" y="620" width="1" height="6" fill="#000"/>
<rect x="447" y="620" width="1" height="6" fill="#000"/>
<rect x="474" y="620" width="1" height="6" fill="#000"/>
<rect x="514" y="620" width="1" height="6" fill="#000"/>
<rect x="539" y="620" width="1" height="6" fill="#000"/>
<rect x="566" y="620" width="1" height="6" fill="#000"/>
<rect x="592" y="620" width="1" height="6" fill="#000"/>
<rect x="619" y="620" width="1" height="6" fill="#000"/>
<rect x="644" y="620" width="1" height="6" fill="#000"/>
<rect x="671" y="620" width="1" height="6" fill="#000"/>
<rect x="711" y="620" width="1" height="6" fill="#000"/>
<rect x="736" y="620" width="1" height="6" fill="#000"/>
<rect x="763" y="620" width="1" height="6" fill="#000"/>
<rect x="789" y="620" width="1" height="6" fill="#000"/>
<rect x="815" y="620" width="1" height="6" fill="#000"/>
<rect x="841" y="620" width="1" height="6" fill="#000"/>
<rect x="868" y="620" width="1" height="6" fill="#000"/>
<rect x="894" y="620" width="1" height="6" fill="#000"/>
<rect x="920" y="620" width="1" height="6" fill="#000"/>
<rect x="946" y="620" width="1" height="6" fill="#000"/>
<rect x="973" y="620" width="1" height="6" fill="#000"/>
<rect x="1000" y="620" width="1" height="6" fill="#000"/>
<rect x="1025" y="620" width="1" height="6" fill="#000"/>
<rect x="1052" y="620" width="1" height="6" fill="#000"/>
<rect x="1104" y="620" width="1" height="6" fill="#000"/>
<rect x="1130" y="620" width="1" height="6" fill="#000"/>
<rect x="1157" y="620" width="1" height="6" fill="#000"/>
<rect x="1183" y="620" width="1" height="6" fill="#000"/>
<rect x="100" y="620" width="1" height="20" fill="#000"/>
<text x="102.5" y="638">27</text>
<rect x="297" y="620" width="1" height="20" fill="#000"/>
<text x="299.5" y="638">28</text>
<rect x="494" y="620" width="1" height="20" fill="#000"/>
<text x="496.5" y="638">29</text>
<rect x="691" y="620" width="1" height="20" fill="#000"/>
<text x="693.5" y="638">30</text>
<rect x="1078" y="620" width="1" height="20" fill="#000"/>
<text x="1080.5" y="638">31</text>
<text x="624.5" y="15" text-anchor="middle">Relative Strength Index (36.8956)</text>
<text x="624.5" y="108" text-anchor="middle">FW20KONT (3501.0000, 3501.0000, 3501.0000, 3501.0000, +5.0000)</text>
<text x="624.5" y="540.5" text-anchor="middle">Volume (2,375), MACD (-13.2392)</text>
<text x="503" y="133" text-anchor="end" fill="#800080">0.0%</text>
<text x="502.5" y="494" text-anchor="end" fill="#800080">100.0%</text>
<text x="660.5" y="205" text-anchor="end" fill="#0000ff">0.0%</text>
<text x="660.5" y="297" text-anchor="end" fill="#0000ff">100.0%</text>
<text x="660.5" y="353" text-anchor="end" fill="#0000ff">161.8%</text>
<text x="660.5" y="446" text-anchor="end" fill="#0000ff">261.8%</text>
<text x="689.5" y="167" text-anchor="middle" fill="#ff0000">2</text>
<text x="489.8" y="515" text-anchor="middle" fill="#ff0000">1</text>
<text x="692" y="190" text-anchor="middle" fill="#0000ff">c</text>
<text x="595" y="316" text-anchor="middle" fill="#0000ff">a</text>
<text x="624.8" y="391" text-anchor="middle" fill="#0000ff">b</text>
<text x="725.3" y="312" text-anchor="middle" fill="#0000ff">1</text>
<text x="740" y="222" text-anchor="middle" fill="#0000ff">2</text>
<text x="857.6" y="452" text-anchor="middle" fill="#0000ff">3</text>
<text x="869.4" y="351" text-anchor="middle" fill="#0000ff">4</text>
<text x="881.3" y="467" text-anchor="middle" fill="#0000ff">5?</text>
</svg>
</body></html>
